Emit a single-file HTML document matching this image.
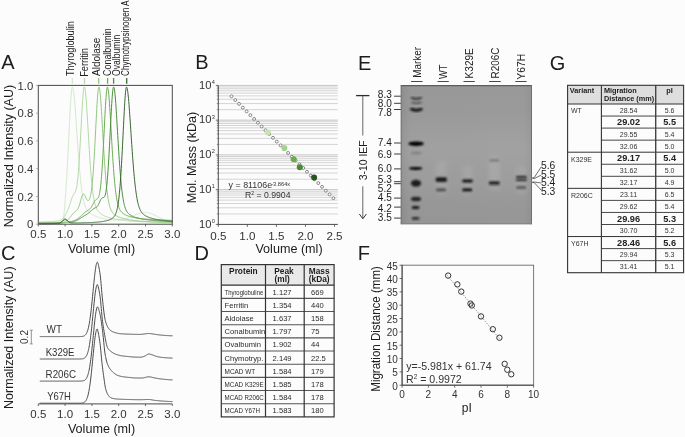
<!DOCTYPE html>
<html><head><meta charset="utf-8"><style>
html,body{margin:0;padding:0;background:#fcfcfc;}
svg{display:block;will-change:transform;font-family:"Liberation Sans",sans-serif;}
</style></head><body>
<svg width="685" height="437" viewBox="0 0 685 437">
<rect width="685" height="437" fill="#fcfcfc"/>
<text x="1.20" y="69.20" font-size="20" text-anchor="start" fill="#1c1c1c">A</text>
<text x="195.20" y="69.30" font-size="20" text-anchor="start" fill="#1c1c1c">B</text>
<text x="1.00" y="260.30" font-size="20" text-anchor="start" fill="#1c1c1c">C</text>
<text x="194.60" y="260.10" font-size="20" text-anchor="start" fill="#1c1c1c">D</text>
<text x="358.00" y="69.60" font-size="20" text-anchor="start" fill="#1c1c1c">E</text>
<text x="357.70" y="260.20" font-size="20" text-anchor="start" fill="#1c1c1c">F</text>
<text x="549.80" y="69.60" font-size="20" text-anchor="start" fill="#1c1c1c">G</text>
<path d="M39.00,223.92 L39.25,223.92 L39.50,223.92 L39.75,223.92 L40.00,223.92 L40.25,223.92 L40.50,223.92 L40.75,223.92 L41.00,223.92 L41.25,223.92 L41.50,223.92 L41.75,223.92 L42.00,223.92 L42.25,223.92 L42.50,223.92 L42.75,223.92 L43.00,223.92 L43.25,223.92 L43.50,223.92 L43.75,223.92 L44.00,223.92 L44.25,223.92 L44.50,223.92 L44.75,223.92 L45.00,223.92 L45.25,223.92 L45.50,223.92 L45.75,223.92 L46.00,223.92 L46.25,223.92 L46.50,223.92 L46.75,223.92 L47.00,223.92 L47.25,223.92 L47.50,223.92 L47.75,223.92 L48.00,223.92 L48.25,223.92 L48.50,223.92 L48.75,223.92 L49.00,223.92 L49.25,223.92 L49.50,223.92 L49.75,223.92 L50.00,223.92 L50.25,223.92 L50.50,223.92 L50.75,223.92 L51.00,223.92 L51.25,223.92 L51.50,223.92 L51.75,223.92 L52.00,223.92 L52.25,223.92 L52.50,223.92 L52.75,223.92 L53.00,223.92 L53.25,223.92 L53.50,223.92 L53.75,223.92 L54.00,223.92 L54.25,223.92 L54.50,223.92 L54.75,223.92 L55.00,223.92 L55.25,223.92 L55.50,223.92 L55.75,223.92 L56.00,223.92 L56.25,223.92 L56.50,223.92 L56.75,223.92 L57.00,223.92 L57.25,223.92 L57.50,223.92 L57.75,223.92 L58.00,223.91 L58.25,223.91 L58.50,223.91 L58.75,223.90 L59.00,223.90 L59.25,223.89 L59.50,223.88 L59.75,223.86 L60.00,223.84 L60.25,223.81 L60.50,223.77 L60.75,223.71 L61.00,223.62 L61.25,223.51 L61.50,223.36 L61.75,223.14 L62.00,222.85 L62.25,222.46 L62.50,221.93 L62.75,221.23 L63.00,220.33 L63.25,219.17 L63.50,217.73 L63.75,215.98 L64.00,213.92 L64.25,211.55 L64.50,208.90 L64.75,205.98 L65.00,202.84 L65.25,199.52 L65.50,196.02 L65.75,192.37 L66.00,188.59 L66.25,184.66 L66.50,180.59 L66.75,176.38 L67.00,172.03 L67.25,167.53 L67.50,162.90 L67.75,158.14 L68.00,153.26 L68.25,148.28 L68.50,143.22 L68.75,138.10 L69.00,132.96 L69.25,127.84 L69.50,122.77 L69.75,117.81 L70.00,113.02 L70.25,108.44 L70.50,104.14 L70.75,100.19 L71.00,96.66 L71.25,93.59 L71.50,91.07 L71.75,89.13 L72.00,87.81 L72.25,87.15 L72.50,87.07 L72.75,87.41 L73.00,88.16 L73.25,89.30 L73.50,90.82 L73.75,92.68 L74.00,94.85 L74.25,97.31 L74.50,100.02 L74.75,102.94 L75.00,106.05 L75.25,109.31 L75.50,112.69 L75.75,116.17 L76.00,119.71 L76.25,123.42 L76.50,127.17 L76.75,130.93 L77.00,134.68 L77.25,138.41 L77.50,142.10 L77.75,145.74 L78.00,149.31 L78.25,152.80 L78.50,156.21 L78.75,159.52 L79.00,162.73 L79.25,165.82 L79.50,168.80 L79.75,171.66 L80.00,174.40 L80.25,177.01 L80.50,179.50 L80.75,181.86 L81.00,184.09 L81.25,186.20 L81.50,188.19 L81.75,190.06 L82.00,191.82 L82.25,193.46 L82.50,195.00 L82.75,196.43 L83.00,197.77 L83.25,199.01 L83.50,200.17 L83.75,201.25 L84.00,202.25 L84.25,203.17 L84.50,204.03 L84.75,204.82 L85.00,205.56 L85.25,206.24 L85.50,206.88 L85.75,207.46 L86.00,208.01 L86.25,208.52 L86.50,208.99 L86.75,209.42 L87.00,209.83 L87.25,210.21 L87.50,210.57 L87.75,210.90 L88.00,211.21 L88.25,211.51 L88.50,211.78 L88.75,212.04 L89.00,212.29 L89.25,212.52 L89.50,212.75 L89.75,212.96 L90.00,213.16 L90.25,213.35 L90.50,213.53 L90.75,213.71 L91.00,213.88 L91.25,214.04 L91.50,214.20 L91.75,214.35 L92.00,214.49 L92.25,214.64 L92.50,214.78 L92.75,214.91 L93.00,215.04 L93.25,215.17 L93.50,215.29 L93.75,215.41 L94.00,215.53 L94.25,215.65 L94.50,215.76 L94.75,215.88 L95.00,215.98 L95.25,216.09 L95.50,216.20 L95.75,216.30 L96.00,216.40 L96.25,216.50 L96.50,216.60 L96.75,216.70 L97.00,216.79 L97.25,216.88 L97.50,216.97 L97.75,217.06 L98.00,217.15 L98.25,217.24 L98.50,217.32 L98.75,217.40 L99.00,217.49 L99.25,217.57 L99.50,217.65 L99.75,217.72 L100.00,217.80 L100.25,217.87 L100.50,217.95 L100.75,218.02 L101.00,218.09 L101.25,218.16 L101.50,218.22 L101.75,218.29 L102.00,218.35 L102.25,218.42 L102.50,218.48 L102.75,218.54 L103.00,218.60 L103.25,218.66 L103.50,218.72 L103.75,218.77 L104.00,218.83 L104.25,218.88 L104.50,218.94 L104.75,218.99 L105.00,219.04 L105.25,219.09 L105.50,219.13 L105.75,219.18 L106.00,219.23 L106.25,219.27 L106.50,219.32 L106.75,219.36 L107.00,219.40 L107.25,219.44 L107.50,219.48 L107.75,219.52 L108.00,219.56 L108.25,219.59 L108.50,219.63 L108.75,219.66 L109.00,219.69 L109.25,219.72 L109.50,219.76 L109.75,219.79 L110.00,219.81 L110.25,219.84 L110.50,219.87 L110.75,219.89 L111.00,219.92 L111.25,219.94 L111.50,219.96 L111.75,219.98 L112.00,220.00 L112.25,220.02 L112.50,220.04 L112.75,220.05 L113.00,220.07 L113.25,220.08 L113.50,220.10 L113.75,220.11 L114.00,220.12 L114.25,220.12 L114.50,220.13 L114.75,220.14 L115.00,220.14 L115.25,220.14 L115.50,220.15 L115.75,220.15 L116.00,220.15 L116.25,220.14 L116.50,220.14 L116.75,220.13 L117.00,220.13 L117.25,220.12 L117.50,220.11 L117.75,220.09 L118.00,220.08 L118.25,220.06 L118.50,220.05 L118.75,220.03 L119.00,220.01 L119.25,219.98 L119.50,219.96 L119.75,219.93 L120.00,219.91 L120.25,219.88 L120.50,219.85 L120.75,219.81 L121.00,219.78 L121.25,219.74 L121.50,219.70 L121.75,219.66 L122.00,219.61 L122.25,219.57 L122.50,219.52 L122.75,219.47 L123.00,219.42 L123.25,219.37 L123.50,219.31 L123.75,219.25 L124.00,219.19 L124.25,219.13 L124.50,219.07 L124.75,219.00 L125.00,218.94 L125.25,218.87 L125.50,218.79 L125.75,218.72 L126.00,218.64 L126.25,218.57 L126.50,218.49 L126.75,218.40 L127.00,218.32 L127.25,218.24 L127.50,218.15 L127.75,218.06 L128.00,217.97 L128.25,217.88 L128.50,217.78 L128.75,217.69 L129.00,217.59 L129.25,217.49 L129.50,217.39 L129.75,217.29 L130.00,217.19 L130.25,217.08 L130.50,216.98 L130.75,216.87 L131.00,216.76 L131.25,216.66 L131.50,216.55 L131.75,216.44 L132.00,216.33 L132.25,216.22 L132.50,216.11 L132.75,216.00 L133.00,215.88 L133.25,215.77 L133.50,215.66 L133.75,215.55 L134.00,215.44 L134.25,215.33 L134.50,215.22 L134.75,215.11 L135.00,215.00 L135.25,214.89 L135.50,214.78 L135.75,214.67 L136.00,214.57 L136.25,214.46 L136.50,214.36 L136.75,214.26 L137.00,214.16 L137.25,214.06 L137.50,213.97 L137.75,213.87 L138.00,213.78 L138.25,213.69 L138.50,213.60 L138.75,213.52 L139.00,213.43 L139.25,213.35 L139.50,213.28 L139.75,213.20 L140.00,213.13 L140.25,213.06 L140.50,213.00 L140.75,212.94 L141.00,212.88 L141.25,212.82 L141.50,212.77 L141.75,212.72 L142.00,212.68 L142.25,212.63 L142.50,212.60 L142.75,212.56 L143.00,212.53 L143.25,212.51 L143.50,212.48 L143.75,212.47 L144.00,212.45 L144.25,212.44 L144.50,212.44 L144.75,212.43 L145.00,212.44 L145.25,212.44 L145.50,212.45 L145.75,212.47 L146.00,212.48 L146.25,212.51 L146.50,212.53 L146.75,212.56 L147.00,212.60 L147.25,212.63 L147.50,212.68 L147.75,212.72 L148.00,212.77 L148.25,212.82 L148.50,212.88 L148.75,212.94 L149.00,213.00 L149.25,213.07 L149.50,213.14 L149.75,213.21 L150.00,213.29 L150.25,213.37 L150.50,213.45 L150.75,213.54 L151.00,213.63 L151.25,213.72 L151.50,213.81 L151.75,213.91 L152.00,214.01 L152.25,214.11 L152.50,214.21 L152.75,214.31 L153.00,214.42 L153.25,214.53 L153.50,214.64 L153.75,214.75 L154.00,214.86 L154.25,214.98 L154.50,215.10 L154.75,215.21 L155.00,215.33 L155.25,215.45 L155.50,215.57 L155.75,215.69 L156.00,215.81 L156.25,215.93 L156.50,216.05 L156.75,216.17 L157.00,216.29 L157.25,216.42 L157.50,216.54 L157.75,216.66 L158.00,216.78 L158.25,216.90 L158.50,217.02 L158.75,217.14 L159.00,217.26 L159.25,217.37 L159.50,217.49 L159.75,217.61 L160.00,217.72 L160.25,217.84 L160.50,217.95 L160.75,218.06 L161.00,218.17 L161.25,218.28 L161.50,218.39 L161.75,218.49 L162.00,218.60 L162.25,218.70 L162.50,218.80 L162.75,218.90 L163.00,219.00 L163.25,219.10 L163.50,219.19 L163.75,219.29 L164.00,219.38 L164.25,219.47 L164.50,219.56 L164.75,219.64 L165.00,219.73 L165.25,219.81 L165.50,219.89 L165.75,219.97 L166.00,220.04 L166.25,220.12 L166.50,220.19 L166.75,220.26 L167.00,220.33 L167.25,220.40 L167.50,220.47 L167.75,220.53 L168.00,220.59 L168.25,220.65 L168.50,220.71 L168.75,220.77 L169.00,220.83 L169.25,220.88 L169.50,220.93 L169.75,220.98 L170.00,221.03 L170.25,221.08 L170.50,221.12 L170.75,221.17 L171.00,221.21 L171.25,221.25 L171.50,221.29 L171.75,221.33 L172.00,221.37 L172.25,221.40" fill="none" stroke="#d3e9cc" stroke-width="1.0" stroke-linejoin="round"/>
<path d="M39.00,222.01 L39.25,222.00 L39.50,221.99 L39.75,221.99 L40.00,221.98 L40.25,221.97 L40.50,221.97 L40.75,221.96 L41.00,221.95 L41.25,221.94 L41.50,221.94 L41.75,221.93 L42.00,221.92 L42.25,221.91 L42.50,221.91 L42.75,221.90 L43.00,221.89 L43.25,221.88 L43.50,221.87 L43.75,221.87 L44.00,221.86 L44.25,221.85 L44.50,221.84 L44.75,221.83 L45.00,221.82 L45.25,221.81 L45.50,221.80 L45.75,221.79 L46.00,221.78 L46.25,221.77 L46.50,221.76 L46.75,221.75 L47.00,221.74 L47.25,221.73 L47.50,221.71 L47.75,221.70 L48.00,221.69 L48.25,221.68 L48.50,221.67 L48.75,221.65 L49.00,221.64 L49.25,221.63 L49.50,221.61 L49.75,221.60 L50.00,221.59 L50.25,221.57 L50.50,221.56 L50.75,221.54 L51.00,221.53 L51.25,221.51 L51.50,221.50 L51.75,221.48 L52.00,221.46 L52.25,221.45 L52.50,221.43 L52.75,221.41 L53.00,221.39 L53.25,221.37 L53.50,221.35 L53.75,221.33 L54.00,221.31 L54.25,221.29 L54.50,221.27 L54.75,221.25 L55.00,221.23 L55.25,221.21 L55.50,221.18 L55.75,221.16 L56.00,221.13 L56.25,221.11 L56.50,221.08 L56.75,221.05 L57.00,221.02 L57.25,220.99 L57.50,220.96 L57.75,220.92 L58.00,220.89 L58.25,220.85 L58.50,220.81 L58.75,220.76 L59.00,220.71 L59.25,220.65 L59.50,220.59 L59.75,220.52 L60.00,220.45 L60.25,220.36 L60.50,220.26 L60.75,220.16 L61.00,220.03 L61.25,219.90 L61.50,219.74 L61.75,219.57 L62.00,219.38 L62.25,219.17 L62.50,218.94 L62.75,218.68 L63.00,218.40 L63.25,218.10 L63.50,217.78 L63.75,217.43 L64.00,217.07 L64.25,216.68 L64.50,216.28 L64.75,215.86 L65.00,215.43 L65.25,214.98 L65.50,214.53 L65.75,214.07 L66.00,213.60 L66.25,213.12 L66.50,212.63 L66.75,212.13 L67.00,211.62 L67.25,211.10 L67.50,210.57 L67.75,210.01 L68.00,209.45 L68.25,208.86 L68.50,208.24 L68.75,207.61 L69.00,206.94 L69.25,206.26 L69.50,205.54 L69.75,204.80 L70.00,204.04 L70.25,203.26 L70.50,202.47 L70.75,201.67 L71.00,200.88 L71.25,200.09 L71.50,199.32 L71.75,198.58 L72.00,197.87 L72.25,197.21 L72.50,196.59 L72.75,196.02 L73.00,195.50 L73.25,195.04 L73.50,194.62 L73.75,194.24 L74.00,193.88 L74.25,193.54 L74.50,193.20 L74.75,192.84 L75.00,192.43 L75.25,191.95 L75.50,191.38 L75.75,190.70 L76.00,189.89 L76.25,188.91 L76.50,187.75 L76.75,186.39 L77.00,184.82 L77.25,183.01 L77.50,180.96 L77.75,178.66 L78.00,176.11 L78.25,173.29 L78.50,170.23 L78.75,166.91 L79.00,163.36 L79.25,159.58 L79.50,155.60 L79.75,151.42 L80.00,147.08 L80.25,142.59 L80.50,138.00 L80.75,133.34 L81.00,128.63 L81.25,123.94 L81.50,119.29 L81.75,114.74 L82.00,110.35 L82.25,106.17 L82.50,102.25 L82.75,98.67 L83.00,95.47 L83.25,92.72 L83.50,90.46 L83.75,88.75 L84.00,87.61 L84.25,87.07 L84.50,87.11 L84.75,87.69 L85.00,88.78 L85.25,90.37 L85.50,92.42 L85.75,94.90 L86.00,97.75 L86.25,100.93 L86.50,104.40 L86.75,108.10 L87.00,111.99 L87.25,116.03 L87.50,120.17 L87.75,124.37 L88.00,128.61 L88.25,132.89 L88.50,137.16 L88.75,141.38 L89.00,145.53 L89.25,149.59 L89.50,153.54 L89.75,157.38 L90.00,161.08 L90.25,164.65 L90.50,168.06 L90.75,171.32 L91.00,174.43 L91.25,177.37 L91.50,180.15 L91.75,182.76 L92.00,185.22 L92.25,187.52 L92.50,189.67 L92.75,191.67 L93.00,193.53 L93.25,195.25 L93.50,196.84 L93.75,198.30 L94.00,199.66 L94.25,200.90 L94.50,202.04 L94.75,203.09 L95.00,204.05 L95.25,204.93 L95.50,205.73 L95.75,206.47 L96.00,207.15 L96.25,207.77 L96.50,208.34 L96.75,208.87 L97.00,209.35 L97.25,209.80 L97.50,210.21 L97.75,210.60 L98.00,210.95 L98.25,211.29 L98.50,211.60 L98.75,211.89 L99.00,212.16 L99.25,212.42 L99.50,212.67 L99.75,212.90 L100.00,213.12 L100.25,213.33 L100.50,213.54 L100.75,213.73 L101.00,213.91 L101.25,214.09 L101.50,214.26 L101.75,214.43 L102.00,214.59 L102.25,214.74 L102.50,214.89 L102.75,215.04 L103.00,215.18 L103.25,215.31 L103.50,215.44 L103.75,215.57 L104.00,215.70 L104.25,215.82 L104.50,215.94 L104.75,216.05 L105.00,216.17 L105.25,216.28 L105.50,216.38 L105.75,216.49 L106.00,216.59 L106.25,216.69 L106.50,216.78 L106.75,216.88 L107.00,216.97 L107.25,217.06 L107.50,217.15 L107.75,217.23 L108.00,217.32 L108.25,217.40 L108.50,217.48 L108.75,217.56 L109.00,217.64 L109.25,217.71 L109.50,217.79 L109.75,217.86 L110.00,217.93 L110.25,218.00 L110.50,218.07 L110.75,218.14 L111.00,218.20 L111.25,218.27 L111.50,218.33 L111.75,218.39 L112.00,218.45 L112.25,218.51 L112.50,218.57 L112.75,218.63 L113.00,218.68 L113.25,218.74 L113.50,218.79 L113.75,218.85 L114.00,218.90 L114.25,218.95 L114.50,219.00 L114.75,219.05 L115.00,219.10 L115.25,219.14 L115.50,219.19 L115.75,219.24 L116.00,219.28 L116.25,219.33 L116.50,219.37 L116.75,219.41 L117.00,219.46 L117.25,219.50 L117.50,219.54 L117.75,219.58 L118.00,219.62 L118.25,219.66 L118.50,219.70 L118.75,219.73 L119.00,219.77 L119.25,219.81 L119.50,219.84 L119.75,219.88 L120.00,219.91 L120.25,219.95 L120.50,219.98 L120.75,220.02 L121.00,220.05 L121.25,220.08 L121.50,220.11 L121.75,220.14 L122.00,220.17 L122.25,220.21 L122.50,220.23 L122.75,220.26 L123.00,220.29 L123.25,220.32 L123.50,220.35 L123.75,220.38 L124.00,220.40 L124.25,220.43 L124.50,220.46 L124.75,220.48 L125.00,220.51 L125.25,220.54 L125.50,220.56 L125.75,220.58 L126.00,220.61 L126.25,220.63 L126.50,220.66 L126.75,220.68 L127.00,220.70 L127.25,220.73 L127.50,220.75 L127.75,220.77 L128.00,220.79 L128.25,220.81 L128.50,220.83 L128.75,220.85 L129.00,220.87 L129.25,220.90 L129.50,220.92 L129.75,220.93 L130.00,220.95 L130.25,220.97 L130.50,220.99 L130.75,221.01 L131.00,221.03 L131.25,221.05 L131.50,221.06 L131.75,221.08 L132.00,221.10 L132.25,221.12 L132.50,221.13 L132.75,221.15 L133.00,221.17 L133.25,221.18 L133.50,221.20 L133.75,221.21 L134.00,221.23 L134.25,221.25 L134.50,221.26 L134.75,221.28 L135.00,221.29 L135.25,221.31 L135.50,221.32 L135.75,221.33 L136.00,221.35 L136.25,221.36 L136.50,221.38 L136.75,221.39 L137.00,221.40 L137.25,221.42 L137.50,221.43 L137.75,221.44 L138.00,221.45 L138.25,221.47 L138.50,221.48 L138.75,221.49 L139.00,221.50 L139.25,221.51 L139.50,221.53 L139.75,221.54 L140.00,221.55 L140.25,221.56 L140.50,221.57 L140.75,221.58 L141.00,221.59 L141.25,221.60 L141.50,221.61 L141.75,221.62 L142.00,221.64 L142.25,221.65 L142.50,221.66 L142.75,221.67 L143.00,221.67 L143.25,221.68 L143.50,221.69 L143.75,221.70 L144.00,221.71 L144.25,221.72 L144.50,221.73 L144.75,221.74 L145.00,221.75 L145.25,221.76 L145.50,221.77 L145.75,221.77 L146.00,221.78 L146.25,221.79 L146.50,221.80 L146.75,221.81 L147.00,221.82 L147.25,221.82 L147.50,221.83 L147.75,221.84 L148.00,221.85 L148.25,221.85 L148.50,221.86 L148.75,221.87 L149.00,221.88 L149.25,221.88 L149.50,221.89 L149.75,221.90 L150.00,221.90 L150.25,221.91 L150.50,221.92 L150.75,221.93 L151.00,221.93 L151.25,221.94 L151.50,221.94 L151.75,221.95 L152.00,221.96 L152.25,221.96 L152.50,221.97 L152.75,221.98 L153.00,221.98 L153.25,221.99 L153.50,221.99 L153.75,222.00 L154.00,222.01 L154.25,222.01 L154.50,222.02 L154.75,222.02 L155.00,222.03 L155.25,222.03 L155.50,222.04 L155.75,222.04 L156.00,222.05 L156.25,222.05 L156.50,222.06 L156.75,222.06 L157.00,222.07 L157.25,222.07 L157.50,222.08 L157.75,222.08 L158.00,222.09 L158.25,222.09 L158.50,222.10 L158.75,222.10 L159.00,222.11 L159.25,222.11 L159.50,222.12 L159.75,222.12 L160.00,222.12 L160.25,222.13 L160.50,222.13 L160.75,222.14 L161.00,222.14 L161.25,222.14 L161.50,222.15 L161.75,222.15 L162.00,222.16 L162.25,222.16 L162.50,222.16 L162.75,222.17 L163.00,222.17 L163.25,222.18 L163.50,222.18 L163.75,222.18 L164.00,222.19 L164.25,222.19 L164.50,222.19 L164.75,222.20 L165.00,222.20 L165.25,222.20 L165.50,222.21 L165.75,222.21 L166.00,222.21 L166.25,222.22 L166.50,222.22 L166.75,222.22 L167.00,222.23 L167.25,222.23 L167.50,222.23 L167.75,222.24 L168.00,222.24 L168.25,222.24 L168.50,222.24 L168.75,222.25 L169.00,222.25 L169.25,222.25 L169.50,222.26 L169.75,222.26 L170.00,222.26 L170.25,222.26 L170.50,222.27 L170.75,222.27 L171.00,222.27 L171.25,222.28 L171.50,222.28 L171.75,222.28 L172.00,222.28 L172.25,222.29" fill="none" stroke="#b5d9a5" stroke-width="1.0" stroke-linejoin="round"/>
<path d="M39.00,222.81 L39.25,222.80 L39.50,222.80 L39.75,222.80 L40.00,222.80 L40.25,222.79 L40.50,222.79 L40.75,222.79 L41.00,222.78 L41.25,222.78 L41.50,222.78 L41.75,222.78 L42.00,222.77 L42.25,222.77 L42.50,222.77 L42.75,222.76 L43.00,222.76 L43.25,222.76 L43.50,222.75 L43.75,222.75 L44.00,222.75 L44.25,222.75 L44.50,222.74 L44.75,222.74 L45.00,222.74 L45.25,222.73 L45.50,222.73 L45.75,222.72 L46.00,222.72 L46.25,222.72 L46.50,222.71 L46.75,222.71 L47.00,222.71 L47.25,222.70 L47.50,222.70 L47.75,222.69 L48.00,222.69 L48.25,222.69 L48.50,222.68 L48.75,222.68 L49.00,222.67 L49.25,222.67 L49.50,222.66 L49.75,222.66 L50.00,222.66 L50.25,222.65 L50.50,222.65 L50.75,222.64 L51.00,222.64 L51.25,222.63 L51.50,222.63 L51.75,222.62 L52.00,222.62 L52.25,222.61 L52.50,222.61 L52.75,222.60 L53.00,222.59 L53.25,222.59 L53.50,222.58 L53.75,222.58 L54.00,222.57 L54.25,222.57 L54.50,222.56 L54.75,222.55 L55.00,222.55 L55.25,222.54 L55.50,222.53 L55.75,222.53 L56.00,222.52 L56.25,222.51 L56.50,222.51 L56.75,222.50 L57.00,222.49 L57.25,222.48 L57.50,222.48 L57.75,222.47 L58.00,222.46 L58.25,222.45 L58.50,222.44 L58.75,222.44 L59.00,222.43 L59.25,222.42 L59.50,222.41 L59.75,222.40 L60.00,222.39 L60.25,222.38 L60.50,222.36 L60.75,222.35 L61.00,222.34 L61.25,222.32 L61.50,222.31 L61.75,222.29 L62.00,222.27 L62.25,222.24 L62.50,222.22 L62.75,222.18 L63.00,222.15 L63.25,222.11 L63.50,222.07 L63.75,222.02 L64.00,221.96 L64.25,221.89 L64.50,221.82 L64.75,221.74 L65.00,221.65 L65.25,221.55 L65.50,221.43 L65.75,221.31 L66.00,221.18 L66.25,221.03 L66.50,220.87 L66.75,220.70 L67.00,220.52 L67.25,220.32 L67.50,220.12 L67.75,219.90 L68.00,219.66 L68.25,219.42 L68.50,219.16 L68.75,218.90 L69.00,218.62 L69.25,218.34 L69.50,218.04 L69.75,217.74 L70.00,217.43 L70.25,217.12 L70.50,216.80 L70.75,216.48 L71.00,216.15 L71.25,215.83 L71.50,215.51 L71.75,215.19 L72.00,214.87 L72.25,214.56 L72.50,214.25 L72.75,213.96 L73.00,213.67 L73.25,213.39 L73.50,213.12 L73.75,212.87 L74.00,212.62 L74.25,212.39 L74.50,212.17 L74.75,211.96 L75.00,211.75 L75.25,211.55 L75.50,211.36 L75.75,211.16 L76.00,210.96 L76.25,210.75 L76.50,210.53 L76.75,210.29 L77.00,210.02 L77.25,209.72 L77.50,209.38 L77.75,209.00 L78.00,208.57 L78.25,208.09 L78.50,207.55 L78.75,206.95 L79.00,206.28 L79.25,205.56 L79.50,204.79 L79.75,203.96 L80.00,203.09 L80.25,202.19 L80.50,201.27 L80.75,200.34 L81.00,199.41 L81.25,198.52 L81.50,197.66 L81.75,196.86 L82.00,196.14 L82.25,195.50 L82.50,194.96 L82.75,194.54 L83.00,194.23 L83.25,194.04 L83.50,193.97 L83.75,194.03 L84.00,194.19 L84.25,194.46 L84.50,194.82 L84.75,195.26 L85.00,195.75 L85.25,196.29 L85.50,196.86 L85.75,197.43 L86.00,197.99 L86.25,198.53 L86.50,199.03 L86.75,199.48 L87.00,199.86 L87.25,200.18 L87.50,200.42 L87.75,200.57 L88.00,200.64 L88.25,200.62 L88.50,200.51 L88.75,200.30 L89.00,199.99 L89.25,199.57 L89.50,199.05 L89.75,198.41 L90.00,197.64 L90.25,196.74 L90.50,195.70 L90.75,194.51 L91.00,193.16 L91.25,191.62 L91.50,189.90 L91.75,187.98 L92.00,185.85 L92.25,183.50 L92.50,180.92 L92.75,178.10 L93.00,175.05 L93.25,171.76 L93.50,168.23 L93.75,164.47 L94.00,160.50 L94.25,156.31 L94.50,151.93 L94.75,147.39 L95.00,142.70 L95.25,137.90 L95.50,133.02 L95.75,128.11 L96.00,123.22 L96.25,118.38 L96.50,113.67 L96.75,109.14 L97.00,104.85 L97.25,100.87 L97.50,97.28 L97.75,94.13 L98.00,91.50 L98.25,89.44 L98.50,88.00 L98.75,87.20 L99.00,87.07 L99.25,87.49 L99.50,88.45 L99.75,89.93 L100.00,91.88 L100.25,94.28 L100.50,97.08 L100.75,100.24 L101.00,103.71 L101.25,107.44 L101.50,111.37 L101.75,115.47 L102.00,119.70 L102.25,124.00 L102.50,128.34 L102.75,132.70 L103.00,137.03 L103.25,141.35 L103.50,145.60 L103.75,149.76 L104.00,153.82 L104.25,157.76 L104.50,161.56 L104.75,165.22 L105.00,168.73 L105.25,172.08 L105.50,175.27 L105.75,178.29 L106.00,181.14 L106.25,183.83 L106.50,186.35 L106.75,188.72 L107.00,190.92 L107.25,192.97 L107.50,194.88 L107.75,196.64 L108.00,198.27 L108.25,199.77 L108.50,201.15 L108.75,202.42 L109.00,203.59 L109.25,204.65 L109.50,205.63 L109.75,206.52 L110.00,207.33 L110.25,208.07 L110.50,208.75 L110.75,209.38 L111.00,209.94 L111.25,210.47 L111.50,210.94 L111.75,211.38 L112.00,211.79 L112.25,212.16 L112.50,212.51 L112.75,212.83 L113.00,213.13 L113.25,213.40 L113.50,213.66 L113.75,213.91 L114.00,214.14 L114.25,214.35 L114.50,214.56 L114.75,214.76 L115.00,214.94 L115.25,215.12 L115.50,215.29 L115.75,215.45 L116.00,215.60 L116.25,215.75 L116.50,215.90 L116.75,216.04 L117.00,216.17 L117.25,216.30 L117.50,216.42 L117.75,216.54 L118.00,216.66 L118.25,216.78 L118.50,216.89 L118.75,216.99 L119.00,217.10 L119.25,217.20 L119.50,217.30 L119.75,217.39 L120.00,217.49 L120.25,217.58 L120.50,217.67 L120.75,217.75 L121.00,217.84 L121.25,217.92 L121.50,218.00 L121.75,218.08 L122.00,218.15 L122.25,218.23 L122.50,218.30 L122.75,218.37 L123.00,218.44 L123.25,218.51 L123.50,218.58 L123.75,218.64 L124.00,218.70 L124.25,218.77 L124.50,218.83 L124.75,218.89 L125.00,218.95 L125.25,219.00 L125.50,219.06 L125.75,219.11 L126.00,219.17 L126.25,219.22 L126.50,219.27 L126.75,219.32 L127.00,219.37 L127.25,219.42 L127.50,219.47 L127.75,219.52 L128.00,219.56 L128.25,219.61 L128.50,219.65 L128.75,219.70 L129.00,219.74 L129.25,219.78 L129.50,219.82 L129.75,219.87 L130.00,219.91 L130.25,219.95 L130.50,219.98 L130.75,220.02 L131.00,220.06 L131.25,220.10 L131.50,220.13 L131.75,220.17 L132.00,220.20 L132.25,220.24 L132.50,220.27 L132.75,220.31 L133.00,220.34 L133.25,220.37 L133.50,220.40 L133.75,220.43 L134.00,220.47 L134.25,220.50 L134.50,220.53 L134.75,220.56 L135.00,220.58 L135.25,220.61 L135.50,220.64 L135.75,220.67 L136.00,220.70 L136.25,220.72 L136.50,220.75 L136.75,220.78 L137.00,220.80 L137.25,220.83 L137.50,220.85 L137.75,220.88 L138.00,220.90 L138.25,220.93 L138.50,220.95 L138.75,220.97 L139.00,221.00 L139.25,221.02 L139.50,221.04 L139.75,221.07 L140.00,221.09 L140.25,221.11 L140.50,221.13 L140.75,221.15 L141.00,221.17 L141.25,221.19 L141.50,221.21 L141.75,221.23 L142.00,221.25 L142.25,221.27 L142.50,221.29 L142.75,221.31 L143.00,221.33 L143.25,221.35 L143.50,221.37 L143.75,221.38 L144.00,221.40 L144.25,221.42 L144.50,221.44 L144.75,221.45 L145.00,221.47 L145.25,221.49 L145.50,221.50 L145.75,221.52 L146.00,221.54 L146.25,221.55 L146.50,221.57 L146.75,221.58 L147.00,221.60 L147.25,221.61 L147.50,221.63 L147.75,221.64 L148.00,221.66 L148.25,221.67 L148.50,221.69 L148.75,221.70 L149.00,221.72 L149.25,221.73 L149.50,221.74 L149.75,221.76 L150.00,221.77 L150.25,221.78 L150.50,221.80 L150.75,221.81 L151.00,221.82 L151.25,221.83 L151.50,221.85 L151.75,221.86 L152.00,221.87 L152.25,221.88 L152.50,221.89 L152.75,221.91 L153.00,221.92 L153.25,221.93 L153.50,221.94 L153.75,221.95 L154.00,221.96 L154.25,221.97 L154.50,221.99 L154.75,222.00 L155.00,222.01 L155.25,222.02 L155.50,222.03 L155.75,222.04 L156.00,222.05 L156.25,222.06 L156.50,222.07 L156.75,222.08 L157.00,222.09 L157.25,222.10 L157.50,222.11 L157.75,222.12 L158.00,222.12 L158.25,222.13 L158.50,222.14 L158.75,222.15 L159.00,222.16 L159.25,222.17 L159.50,222.18 L159.75,222.19 L160.00,222.20 L160.25,222.20 L160.50,222.21 L160.75,222.22 L161.00,222.23 L161.25,222.24 L161.50,222.24 L161.75,222.25 L162.00,222.26 L162.25,222.27 L162.50,222.28 L162.75,222.28 L163.00,222.29 L163.25,222.30 L163.50,222.31 L163.75,222.31 L164.00,222.32 L164.25,222.33 L164.50,222.33 L164.75,222.34 L165.00,222.35 L165.25,222.36 L165.50,222.36 L165.75,222.37 L166.00,222.38 L166.25,222.38 L166.50,222.39 L166.75,222.39 L167.00,222.40 L167.25,222.41 L167.50,222.41 L167.75,222.42 L168.00,222.43 L168.25,222.43 L168.50,222.44 L168.75,222.44 L169.00,222.45 L169.25,222.46 L169.50,222.46 L169.75,222.47 L170.00,222.47 L170.25,222.48 L170.50,222.48 L170.75,222.49 L171.00,222.49 L171.25,222.50 L171.50,222.50 L171.75,222.51 L172.00,222.51 L172.25,222.52" fill="none" stroke="#92c67e" stroke-width="1.0" stroke-linejoin="round"/>
<path d="M39.00,223.70 L39.25,223.69 L39.50,223.69 L39.75,223.69 L40.00,223.69 L40.25,223.69 L40.50,223.68 L40.75,223.68 L41.00,223.68 L41.25,223.68 L41.50,223.68 L41.75,223.67 L42.00,223.67 L42.25,223.67 L42.50,223.67 L42.75,223.66 L43.00,223.66 L43.25,223.66 L43.50,223.66 L43.75,223.65 L44.00,223.65 L44.25,223.65 L44.50,223.65 L44.75,223.64 L45.00,223.64 L45.25,223.64 L45.50,223.63 L45.75,223.63 L46.00,223.63 L46.25,223.62 L46.50,223.62 L46.75,223.62 L47.00,223.61 L47.25,223.61 L47.50,223.61 L47.75,223.60 L48.00,223.60 L48.25,223.59 L48.50,223.59 L48.75,223.59 L49.00,223.58 L49.25,223.58 L49.50,223.57 L49.75,223.57 L50.00,223.56 L50.25,223.56 L50.50,223.55 L50.75,223.55 L51.00,223.54 L51.25,223.53 L51.50,223.53 L51.75,223.52 L52.00,223.52 L52.25,223.51 L52.50,223.50 L52.75,223.50 L53.00,223.49 L53.25,223.48 L53.50,223.47 L53.75,223.46 L54.00,223.46 L54.25,223.45 L54.50,223.44 L54.75,223.43 L55.00,223.42 L55.25,223.41 L55.50,223.40 L55.75,223.39 L56.00,223.38 L56.25,223.37 L56.50,223.36 L56.75,223.34 L57.00,223.33 L57.25,223.32 L57.50,223.31 L57.75,223.29 L58.00,223.28 L58.25,223.26 L58.50,223.25 L58.75,223.23 L59.00,223.22 L59.25,223.20 L59.50,223.18 L59.75,223.16 L60.00,223.15 L60.25,223.13 L60.50,223.11 L60.75,223.09 L61.00,223.07 L61.25,223.04 L61.50,223.02 L61.75,223.00 L62.00,222.97 L62.25,222.95 L62.50,222.92 L62.75,222.90 L63.00,222.87 L63.25,222.84 L63.50,222.82 L63.75,222.79 L64.00,222.76 L64.25,222.72 L64.50,222.69 L64.75,222.66 L65.00,222.63 L65.25,222.59 L65.50,222.56 L65.75,222.52 L66.00,222.49 L66.25,222.45 L66.50,222.41 L66.75,222.37 L67.00,222.33 L67.25,222.29 L67.50,222.25 L67.75,222.20 L68.00,222.16 L68.25,222.11 L68.50,222.07 L68.75,222.02 L69.00,221.97 L69.25,221.92 L69.50,221.87 L69.75,221.82 L70.00,221.76 L70.25,221.71 L70.50,221.65 L70.75,221.60 L71.00,221.54 L71.25,221.47 L71.50,221.41 L71.75,221.34 L72.00,221.28 L72.25,221.21 L72.50,221.13 L72.75,221.06 L73.00,220.98 L73.25,220.90 L73.50,220.81 L73.75,220.73 L74.00,220.64 L74.25,220.54 L74.50,220.44 L74.75,220.34 L75.00,220.23 L75.25,220.12 L75.50,220.00 L75.75,219.88 L76.00,219.75 L76.25,219.62 L76.50,219.48 L76.75,219.33 L77.00,219.18 L77.25,219.03 L77.50,218.86 L77.75,218.70 L78.00,218.52 L78.25,218.34 L78.50,218.16 L78.75,217.96 L79.00,217.77 L79.25,217.56 L79.50,217.35 L79.75,217.14 L80.00,216.92 L80.25,216.70 L80.50,216.47 L80.75,216.24 L81.00,216.00 L81.25,215.76 L81.50,215.52 L81.75,215.28 L82.00,215.04 L82.25,214.80 L82.50,214.55 L82.75,214.31 L83.00,214.07 L83.25,213.83 L83.50,213.60 L83.75,213.37 L84.00,213.14 L84.25,212.92 L84.50,212.70 L84.75,212.49 L85.00,212.28 L85.25,212.09 L85.50,211.90 L85.75,211.71 L86.00,211.53 L86.25,211.37 L86.50,211.20 L86.75,211.04 L87.00,210.89 L87.25,210.74 L87.50,210.60 L87.75,210.45 L88.00,210.31 L88.25,210.16 L88.50,210.00 L88.75,209.84 L89.00,209.67 L89.25,209.49 L89.50,209.29 L89.75,209.07 L90.00,208.83 L90.25,208.57 L90.50,208.28 L90.75,207.97 L91.00,207.63 L91.25,207.26 L91.50,206.86 L91.75,206.44 L92.00,206.00 L92.25,205.53 L92.50,205.05 L92.75,204.56 L93.00,204.06 L93.25,203.56 L93.50,203.06 L93.75,202.58 L94.00,202.12 L94.25,201.68 L94.50,201.27 L94.75,200.90 L95.00,200.56 L95.25,200.26 L95.50,199.99 L95.75,199.77 L96.00,199.57 L96.25,199.41 L96.50,199.26 L96.75,199.12 L97.00,198.97 L97.25,198.81 L97.50,198.62 L97.75,198.37 L98.00,198.06 L98.25,197.66 L98.50,197.15 L98.75,196.52 L99.00,195.75 L99.25,194.81 L99.50,193.70 L99.75,192.38 L100.00,190.86 L100.25,189.10 L100.50,187.11 L100.75,184.88 L101.00,182.38 L101.25,179.63 L101.50,176.62 L101.75,173.34 L102.00,169.81 L102.25,166.04 L102.50,162.02 L102.75,157.79 L103.00,153.35 L103.25,148.74 L103.50,143.97 L103.75,139.08 L104.00,134.11 L104.25,129.10 L104.50,124.10 L104.75,119.15 L105.00,114.32 L105.25,109.67 L105.50,105.27 L105.75,101.19 L106.00,97.50 L106.25,94.27 L106.50,91.57 L106.75,89.45 L107.00,87.98 L107.25,87.18 L107.50,87.07 L107.75,87.52 L108.00,88.50 L108.25,89.98 L108.50,91.95 L108.75,94.36 L109.00,97.17 L109.25,100.34 L109.50,103.81 L109.75,107.53 L110.00,111.47 L110.25,115.57 L110.50,119.79 L110.75,124.09 L111.00,128.43 L111.25,132.78 L111.50,137.11 L111.75,141.39 L112.00,145.60 L112.25,149.74 L112.50,153.76 L112.75,157.67 L113.00,161.44 L113.25,165.06 L113.50,168.53 L113.75,171.84 L114.00,174.99 L114.25,177.97 L114.50,180.79 L114.75,183.44 L115.00,185.92 L115.25,188.25 L115.50,190.42 L115.75,192.43 L116.00,194.30 L116.25,196.03 L116.50,197.63 L116.75,199.10 L117.00,200.45 L117.25,201.69 L117.50,202.83 L117.75,203.86 L118.00,204.81 L118.25,205.68 L118.50,206.47 L118.75,207.19 L119.00,207.85 L119.25,208.45 L119.50,209.00 L119.75,209.50 L120.00,209.96 L120.25,210.38 L120.50,210.77 L120.75,211.13 L121.00,211.46 L121.25,211.76 L121.50,212.04 L121.75,212.31 L122.00,212.55 L122.25,212.78 L122.50,213.00 L122.75,213.20 L123.00,213.40 L123.25,213.58 L123.50,213.75 L123.75,213.92 L124.00,214.07 L124.25,214.22 L124.50,214.37 L124.75,214.50 L125.00,214.64 L125.25,214.76 L125.50,214.89 L125.75,215.00 L126.00,215.12 L126.25,215.23 L126.50,215.34 L126.75,215.44 L127.00,215.54 L127.25,215.64 L127.50,215.73 L127.75,215.83 L128.00,215.91 L128.25,216.00 L128.50,216.09 L128.75,216.17 L129.00,216.25 L129.25,216.33 L129.50,216.40 L129.75,216.47 L130.00,216.55 L130.25,216.62 L130.50,216.68 L130.75,216.75 L131.00,216.82 L131.25,216.88 L131.50,216.94 L131.75,217.00 L132.00,217.06 L132.25,217.12 L132.50,217.18 L132.75,217.23 L133.00,217.29 L133.25,217.34 L133.50,217.39 L133.75,217.44 L134.00,217.49 L134.25,217.54 L134.50,217.59 L134.75,217.64 L135.00,217.68 L135.25,217.73 L135.50,217.77 L135.75,217.81 L136.00,217.86 L136.25,217.90 L136.50,217.94 L136.75,217.98 L137.00,218.02 L137.25,218.06 L137.50,218.09 L137.75,218.13 L138.00,218.17 L138.25,218.20 L138.50,218.24 L138.75,218.27 L139.00,218.31 L139.25,218.34 L139.50,218.37 L139.75,218.41 L140.00,218.44 L140.25,218.47 L140.50,218.50 L140.75,218.53 L141.00,218.56 L141.25,218.59 L141.50,218.62 L141.75,218.65 L142.00,218.68 L142.25,218.70 L142.50,218.73 L142.75,218.76 L143.00,218.78 L143.25,218.81 L143.50,218.83 L143.75,218.86 L144.00,218.88 L144.25,218.91 L144.50,218.93 L144.75,218.96 L145.00,218.98 L145.25,219.00 L145.50,219.03 L145.75,219.05 L146.00,219.07 L146.25,219.09 L146.50,219.11 L146.75,219.14 L147.00,219.16 L147.25,219.18 L147.50,219.20 L147.75,219.22 L148.00,219.24 L148.25,219.26 L148.50,219.28 L148.75,219.30 L149.00,219.31 L149.25,219.33 L149.50,219.35 L149.75,219.37 L150.00,219.39 L150.25,219.41 L150.50,219.42 L150.75,219.44 L151.00,219.46 L151.25,219.47 L151.50,219.49 L151.75,219.51 L152.00,219.52 L152.25,219.54 L152.50,219.56 L152.75,219.57 L153.00,219.59 L153.25,219.60 L153.50,219.62 L153.75,219.63 L154.00,219.65 L154.25,219.66 L154.50,219.68 L154.75,219.69 L155.00,219.71 L155.25,219.72 L155.50,219.73 L155.75,219.75 L156.00,219.76 L156.25,219.77 L156.50,219.79 L156.75,219.80 L157.00,219.81 L157.25,219.83 L157.50,219.84 L157.75,219.85 L158.00,219.86 L158.25,219.87 L158.50,219.89 L158.75,219.90 L159.00,219.91 L159.25,219.92 L159.50,219.93 L159.75,219.95 L160.00,219.96 L160.25,219.97 L160.50,219.98 L160.75,219.99 L161.00,220.00 L161.25,220.01 L161.50,220.02 L161.75,220.03 L162.00,220.04 L162.25,220.05 L162.50,220.06 L162.75,220.07 L163.00,220.08 L163.25,220.09 L163.50,220.10 L163.75,220.11 L164.00,220.12 L164.25,220.13 L164.50,220.14 L164.75,220.15 L165.00,220.16 L165.25,220.17 L165.50,220.18 L165.75,220.19 L166.00,220.20 L166.25,220.20 L166.50,220.21 L166.75,220.22 L167.00,220.23 L167.25,220.24 L167.50,220.25 L167.75,220.26 L168.00,220.26 L168.25,220.27 L168.50,220.28 L168.75,220.29 L169.00,220.30 L169.25,220.30 L169.50,220.31 L169.75,220.32 L170.00,220.33 L170.25,220.33 L170.50,220.34 L170.75,220.35 L171.00,220.36 L171.25,220.36 L171.50,220.37 L171.75,220.38 L172.00,220.38 L172.25,220.39" fill="none" stroke="#6cae53" stroke-width="1.0" stroke-linejoin="round"/>
<path d="M39.00,223.71 L39.25,223.71 L39.50,223.71 L39.75,223.70 L40.00,223.70 L40.25,223.70 L40.50,223.70 L40.75,223.70 L41.00,223.70 L41.25,223.69 L41.50,223.69 L41.75,223.69 L42.00,223.69 L42.25,223.69 L42.50,223.68 L42.75,223.68 L43.00,223.68 L43.25,223.68 L43.50,223.67 L43.75,223.67 L44.00,223.67 L44.25,223.67 L44.50,223.66 L44.75,223.66 L45.00,223.66 L45.25,223.66 L45.50,223.65 L45.75,223.65 L46.00,223.65 L46.25,223.65 L46.50,223.64 L46.75,223.64 L47.00,223.64 L47.25,223.63 L47.50,223.63 L47.75,223.63 L48.00,223.62 L48.25,223.62 L48.50,223.62 L48.75,223.61 L49.00,223.61 L49.25,223.61 L49.50,223.60 L49.75,223.60 L50.00,223.59 L50.25,223.59 L50.50,223.59 L50.75,223.58 L51.00,223.58 L51.25,223.57 L51.50,223.57 L51.75,223.56 L52.00,223.56 L52.25,223.55 L52.50,223.55 L52.75,223.54 L53.00,223.54 L53.25,223.53 L53.50,223.53 L53.75,223.52 L54.00,223.51 L54.25,223.51 L54.50,223.50 L54.75,223.50 L55.00,223.49 L55.25,223.48 L55.50,223.47 L55.75,223.47 L56.00,223.46 L56.25,223.45 L56.50,223.44 L56.75,223.43 L57.00,223.42 L57.25,223.41 L57.50,223.40 L57.75,223.39 L58.00,223.37 L58.25,223.35 L58.50,223.33 L58.75,223.31 L59.00,223.27 L59.25,223.23 L59.50,223.19 L59.75,223.13 L60.00,223.06 L60.25,222.97 L60.50,222.87 L60.75,222.75 L61.00,222.62 L61.25,222.46 L61.50,222.29 L61.75,222.09 L62.00,221.88 L62.25,221.65 L62.50,221.41 L62.75,221.17 L63.00,220.92 L63.25,220.68 L63.50,220.45 L63.75,220.23 L64.00,220.04 L64.25,219.89 L64.50,219.76 L64.75,219.68 L65.00,219.64 L65.25,219.64 L65.50,219.69 L65.75,219.77 L66.00,219.90 L66.25,220.05 L66.50,220.22 L66.75,220.41 L67.00,220.62 L67.25,220.83 L67.50,221.03 L67.75,221.23 L68.00,221.42 L68.25,221.59 L68.50,221.74 L68.75,221.88 L69.00,221.99 L69.25,222.08 L69.50,222.15 L69.75,222.21 L70.00,222.24 L70.25,222.26 L70.50,222.27 L70.75,222.26 L71.00,222.25 L71.25,222.22 L71.50,222.19 L71.75,222.15 L72.00,222.11 L72.25,222.05 L72.50,222.00 L72.75,221.94 L73.00,221.87 L73.25,221.81 L73.50,221.73 L73.75,221.66 L74.00,221.58 L74.25,221.49 L74.50,221.40 L74.75,221.31 L75.00,221.22 L75.25,221.12 L75.50,221.01 L75.75,220.90 L76.00,220.79 L76.25,220.67 L76.50,220.55 L76.75,220.42 L77.00,220.29 L77.25,220.16 L77.50,220.02 L77.75,219.88 L78.00,219.74 L78.25,219.59 L78.50,219.44 L78.75,219.29 L79.00,219.13 L79.25,218.97 L79.50,218.81 L79.75,218.65 L80.00,218.49 L80.25,218.32 L80.50,218.16 L80.75,217.99 L81.00,217.83 L81.25,217.66 L81.50,217.50 L81.75,217.34 L82.00,217.18 L82.25,217.02 L82.50,216.86 L82.75,216.70 L83.00,216.54 L83.25,216.39 L83.50,216.24 L83.75,216.09 L84.00,215.94 L84.25,215.79 L84.50,215.65 L84.75,215.50 L85.00,215.36 L85.25,215.21 L85.50,215.07 L85.75,214.92 L86.00,214.77 L86.25,214.62 L86.50,214.47 L86.75,214.31 L87.00,214.15 L87.25,213.99 L87.50,213.82 L87.75,213.65 L88.00,213.47 L88.25,213.29 L88.50,213.09 L88.75,212.90 L89.00,212.69 L89.25,212.49 L89.50,212.27 L89.75,212.05 L90.00,211.83 L90.25,211.60 L90.50,211.37 L90.75,211.13 L91.00,210.90 L91.25,210.67 L91.50,210.43 L91.75,210.20 L92.00,209.98 L92.25,209.76 L92.50,209.55 L92.75,209.35 L93.00,209.15 L93.25,208.97 L93.50,208.80 L93.75,208.64 L94.00,208.49 L94.25,208.35 L94.50,208.22 L94.75,208.09 L95.00,207.97 L95.25,207.86 L95.50,207.74 L95.75,207.61 L96.00,207.48 L96.25,207.33 L96.50,207.16 L96.75,206.97 L97.00,206.74 L97.25,206.48 L97.50,206.18 L97.75,205.84 L98.00,205.46 L98.25,205.03 L98.50,204.56 L98.75,204.06 L99.00,203.52 L99.25,202.95 L99.50,202.37 L99.75,201.78 L100.00,201.19 L100.25,200.62 L100.50,200.08 L100.75,199.58 L101.00,199.13 L101.25,198.73 L101.50,198.39 L101.75,198.12 L102.00,197.91 L102.25,197.76 L102.50,197.67 L102.75,197.61 L103.00,197.58 L103.25,197.56 L103.50,197.52 L103.75,197.44 L104.00,197.31 L104.25,197.10 L104.50,196.77 L104.75,196.31 L105.00,195.69 L105.25,194.90 L105.50,193.91 L105.75,192.70 L106.00,191.27 L106.25,189.59 L106.50,187.66 L106.75,185.47 L107.00,183.02 L107.25,180.31 L107.50,177.33 L107.75,174.10 L108.00,170.63 L108.25,166.91 L108.50,162.98 L108.75,158.83 L109.00,154.49 L109.25,149.99 L109.50,145.35 L109.75,140.59 L110.00,135.76 L110.25,130.88 L110.50,126.00 L110.75,121.17 L111.00,116.43 L111.25,111.84 L111.50,107.46 L111.75,103.34 L112.00,99.56 L112.25,96.17 L112.50,93.23 L112.75,90.81 L113.00,88.95 L113.25,87.70 L113.50,87.07 L113.75,87.07 L114.00,87.57 L114.25,88.57 L114.50,90.05 L114.75,91.97 L115.00,94.30 L115.25,97.00 L115.50,100.04 L115.75,103.37 L116.00,106.94 L116.25,110.72 L116.50,114.66 L116.75,118.72 L117.00,122.87 L117.25,127.06 L117.50,131.28 L117.75,135.49 L118.00,139.66 L118.25,143.80 L118.50,147.87 L118.75,151.84 L119.00,155.71 L119.25,159.46 L119.50,163.09 L119.75,166.57 L120.00,169.92 L120.25,173.11 L120.50,176.15 L120.75,179.04 L121.00,181.77 L121.25,184.35 L121.50,186.78 L121.75,189.05 L122.00,191.18 L122.25,193.16 L122.50,195.01 L122.75,196.72 L123.00,198.31 L123.25,199.78 L123.50,201.13 L123.75,202.38 L124.00,203.53 L124.25,204.58 L124.50,205.55 L124.75,206.43 L125.00,207.24 L125.25,207.99 L125.50,208.67 L125.75,209.29 L126.00,209.86 L126.25,210.38 L126.50,210.86 L126.75,211.30 L127.00,211.71 L127.25,212.09 L127.50,212.43 L127.75,212.75 L128.00,213.05 L128.25,213.33 L128.50,213.58 L128.75,213.83 L129.00,214.05 L129.25,214.27 L129.50,214.47 L129.75,214.66 L130.00,214.84 L130.25,215.01 L130.50,215.17 L130.75,215.33 L131.00,215.48 L131.25,215.62 L131.50,215.76 L131.75,215.89 L132.00,216.02 L132.25,216.14 L132.50,216.26 L132.75,216.37 L133.00,216.48 L133.25,216.59 L133.50,216.69 L133.75,216.79 L134.00,216.89 L134.25,216.99 L134.50,217.08 L134.75,217.17 L135.00,217.26 L135.25,217.34 L135.50,217.42 L135.75,217.50 L136.00,217.58 L136.25,217.66 L136.50,217.73 L136.75,217.80 L137.00,217.87 L137.25,217.94 L137.50,218.01 L137.75,218.08 L138.00,218.14 L138.25,218.20 L138.50,218.26 L138.75,218.32 L139.00,218.38 L139.25,218.44 L139.50,218.50 L139.75,218.55 L140.00,218.60 L140.25,218.66 L140.50,218.71 L140.75,218.76 L141.00,218.81 L141.25,218.86 L141.50,218.90 L141.75,218.95 L142.00,219.00 L142.25,219.04 L142.50,219.08 L142.75,219.13 L143.00,219.17 L143.25,219.21 L143.50,219.25 L143.75,219.29 L144.00,219.33 L144.25,219.37 L144.50,219.41 L144.75,219.44 L145.00,219.48 L145.25,219.51 L145.50,219.55 L145.75,219.58 L146.00,219.62 L146.25,219.65 L146.50,219.68 L146.75,219.72 L147.00,219.75 L147.25,219.78 L147.50,219.81 L147.75,219.84 L148.00,219.87 L148.25,219.90 L148.50,219.93 L148.75,219.96 L149.00,219.99 L149.25,220.01 L149.50,220.04 L149.75,220.07 L150.00,220.09 L150.25,220.12 L150.50,220.15 L150.75,220.17 L151.00,220.20 L151.25,220.22 L151.50,220.24 L151.75,220.27 L152.00,220.29 L152.25,220.31 L152.50,220.34 L152.75,220.36 L153.00,220.38 L153.25,220.40 L153.50,220.43 L153.75,220.45 L154.00,220.47 L154.25,220.49 L154.50,220.51 L154.75,220.53 L155.00,220.55 L155.25,220.57 L155.50,220.59 L155.75,220.61 L156.00,220.63 L156.25,220.65 L156.50,220.66 L156.75,220.68 L157.00,220.70 L157.25,220.72 L157.50,220.74 L157.75,220.75 L158.00,220.77 L158.25,220.79 L158.50,220.80 L158.75,220.82 L159.00,220.84 L159.25,220.85 L159.50,220.87 L159.75,220.88 L160.00,220.90 L160.25,220.92 L160.50,220.93 L160.75,220.95 L161.00,220.96 L161.25,220.98 L161.50,220.99 L161.75,221.00 L162.00,221.02 L162.25,221.03 L162.50,221.05 L162.75,221.06 L163.00,221.07 L163.25,221.09 L163.50,221.10 L163.75,221.11 L164.00,221.13 L164.25,221.14 L164.50,221.15 L164.75,221.16 L165.00,221.18 L165.25,221.19 L165.50,221.20 L165.75,221.21 L166.00,221.22 L166.25,221.24 L166.50,221.25 L166.75,221.26 L167.00,221.27 L167.25,221.28 L167.50,221.29 L167.75,221.30 L168.00,221.32 L168.25,221.33 L168.50,221.34 L168.75,221.35 L169.00,221.36 L169.25,221.37 L169.50,221.38 L169.75,221.39 L170.00,221.40 L170.25,221.41 L170.50,221.42 L170.75,221.43 L171.00,221.44 L171.25,221.45 L171.50,221.46 L171.75,221.47 L172.00,221.48 L172.25,221.48" fill="none" stroke="#4d8f3c" stroke-width="1.0" stroke-linejoin="round"/>
<path d="M39.00,223.24 L39.25,223.23 L39.50,223.23 L39.75,223.23 L40.00,223.23 L40.25,223.23 L40.50,223.23 L40.75,223.23 L41.00,223.23 L41.25,223.23 L41.50,223.23 L41.75,223.23 L42.00,223.23 L42.25,223.22 L42.50,223.22 L42.75,223.22 L43.00,223.22 L43.25,223.22 L43.50,223.22 L43.75,223.22 L44.00,223.22 L44.25,223.22 L44.50,223.22 L44.75,223.21 L45.00,223.21 L45.25,223.21 L45.50,223.21 L45.75,223.21 L46.00,223.21 L46.25,223.21 L46.50,223.21 L46.75,223.21 L47.00,223.21 L47.25,223.20 L47.50,223.20 L47.75,223.20 L48.00,223.20 L48.25,223.20 L48.50,223.20 L48.75,223.20 L49.00,223.20 L49.25,223.20 L49.50,223.19 L49.75,223.19 L50.00,223.19 L50.25,223.19 L50.50,223.19 L50.75,223.19 L51.00,223.19 L51.25,223.19 L51.50,223.18 L51.75,223.18 L52.00,223.18 L52.25,223.18 L52.50,223.18 L52.75,223.18 L53.00,223.18 L53.25,223.17 L53.50,223.17 L53.75,223.17 L54.00,223.17 L54.25,223.17 L54.50,223.17 L54.75,223.17 L55.00,223.16 L55.25,223.16 L55.50,223.16 L55.75,223.16 L56.00,223.15 L56.25,223.15 L56.50,223.15 L56.75,223.14 L57.00,223.14 L57.25,223.13 L57.50,223.12 L57.75,223.10 L58.00,223.09 L58.25,223.07 L58.50,223.04 L58.75,223.00 L59.00,222.96 L59.25,222.91 L59.50,222.84 L59.75,222.76 L60.00,222.67 L60.25,222.55 L60.50,222.42 L60.75,222.28 L61.00,222.11 L61.25,221.92 L61.50,221.71 L61.75,221.49 L62.00,221.25 L62.25,221.00 L62.50,220.74 L62.75,220.48 L63.00,220.23 L63.25,219.98 L63.50,219.75 L63.75,219.54 L64.00,219.36 L64.25,219.21 L64.50,219.11 L64.75,219.04 L65.00,219.01 L65.25,219.03 L65.50,219.10 L65.75,219.20 L66.00,219.34 L66.25,219.52 L66.50,219.72 L66.75,219.95 L67.00,220.19 L67.25,220.44 L67.50,220.70 L67.75,220.95 L68.00,221.19 L68.25,221.43 L68.50,221.65 L68.75,221.85 L69.00,222.03 L69.25,222.20 L69.50,222.34 L69.75,222.46 L70.00,222.57 L70.25,222.66 L70.50,222.74 L70.75,222.80 L71.00,222.84 L71.25,222.88 L71.50,222.91 L71.75,222.94 L72.00,222.95 L72.25,222.97 L72.50,222.97 L72.75,222.98 L73.00,222.98 L73.25,222.98 L73.50,222.98 L73.75,222.98 L74.00,222.98 L74.25,222.98 L74.50,222.97 L74.75,222.97 L75.00,222.97 L75.25,222.96 L75.50,222.96 L75.75,222.95 L76.00,222.95 L76.25,222.95 L76.50,222.94 L76.75,222.94 L77.00,222.93 L77.25,222.93 L77.50,222.92 L77.75,222.92 L78.00,222.92 L78.25,222.91 L78.50,222.91 L78.75,222.90 L79.00,222.90 L79.25,222.89 L79.50,222.89 L79.75,222.88 L80.00,222.87 L80.25,222.87 L80.50,222.86 L80.75,222.86 L81.00,222.85 L81.25,222.85 L81.50,222.84 L81.75,222.83 L82.00,222.83 L82.25,222.82 L82.50,222.82 L82.75,222.81 L83.00,222.80 L83.25,222.80 L83.50,222.79 L83.75,222.78 L84.00,222.78 L84.25,222.77 L84.50,222.76 L84.75,222.75 L85.00,222.75 L85.25,222.74 L85.50,222.73 L85.75,222.72 L86.00,222.72 L86.25,222.71 L86.50,222.70 L86.75,222.69 L87.00,222.68 L87.25,222.67 L87.50,222.66 L87.75,222.66 L88.00,222.65 L88.25,222.64 L88.50,222.63 L88.75,222.62 L89.00,222.61 L89.25,222.60 L89.50,222.59 L89.75,222.58 L90.00,222.57 L90.25,222.55 L90.50,222.54 L90.75,222.53 L91.00,222.52 L91.25,222.51 L91.50,222.50 L91.75,222.48 L92.00,222.47 L92.25,222.46 L92.50,222.44 L92.75,222.43 L93.00,222.42 L93.25,222.40 L93.50,222.39 L93.75,222.37 L94.00,222.36 L94.25,222.34 L94.50,222.33 L94.75,222.31 L95.00,222.29 L95.25,222.27 L95.50,222.26 L95.75,222.24 L96.00,222.22 L96.25,222.20 L96.50,222.18 L96.75,222.16 L97.00,222.14 L97.25,222.12 L97.50,222.10 L97.75,222.08 L98.00,222.06 L98.25,222.03 L98.50,222.01 L98.75,221.99 L99.00,221.96 L99.25,221.94 L99.50,221.91 L99.75,221.88 L100.00,221.86 L100.25,221.83 L100.50,221.80 L100.75,221.77 L101.00,221.74 L101.25,221.71 L101.50,221.67 L101.75,221.64 L102.00,221.61 L102.25,221.57 L102.50,221.53 L102.75,221.50 L103.00,221.46 L103.25,221.42 L103.50,221.38 L103.75,221.33 L104.00,221.29 L104.25,221.24 L104.50,221.20 L104.75,221.15 L105.00,221.10 L105.25,221.05 L105.50,220.99 L105.75,220.94 L106.00,220.88 L106.25,220.82 L106.50,220.76 L106.75,220.70 L107.00,220.63 L107.25,220.56 L107.50,220.49 L107.75,220.42 L108.00,220.34 L108.25,220.26 L108.50,220.18 L108.75,220.10 L109.00,220.01 L109.25,219.91 L109.50,219.82 L109.75,219.72 L110.00,219.61 L110.25,219.50 L110.50,219.38 L110.75,219.26 L111.00,219.13 L111.25,219.00 L111.50,218.85 L111.75,218.70 L112.00,218.54 L112.25,218.37 L112.50,218.19 L112.75,217.99 L113.00,217.78 L113.25,217.56 L113.50,217.31 L113.75,217.05 L114.00,216.76 L114.25,216.44 L114.50,216.09 L114.75,215.70 L115.00,215.28 L115.25,214.81 L115.50,214.29 L115.75,213.71 L116.00,213.07 L116.25,212.36 L116.50,211.56 L116.75,210.68 L117.00,209.70 L117.25,208.61 L117.50,207.41 L117.75,206.07 L118.00,204.60 L118.25,202.98 L118.50,201.19 L118.75,199.23 L119.00,197.09 L119.25,194.76 L119.50,192.24 L119.75,189.50 L120.00,186.56 L120.25,183.39 L120.50,180.02 L120.75,176.42 L121.00,172.61 L121.25,168.59 L121.50,164.37 L121.75,159.97 L122.00,155.39 L122.25,150.67 L122.50,145.81 L122.75,140.86 L123.00,135.83 L123.25,130.78 L123.50,125.74 L123.75,120.76 L124.00,115.90 L124.25,111.20 L124.50,106.74 L124.75,102.57 L125.00,98.77 L125.25,95.40 L125.50,92.53 L125.75,90.22 L126.00,88.52 L126.25,87.46 L126.50,87.07 L126.75,87.22 L127.00,87.77 L127.25,88.72 L127.50,90.05 L127.75,91.73 L128.00,93.75 L128.25,96.08 L128.50,98.68 L128.75,101.54 L129.00,104.60 L129.25,107.86 L129.50,111.26 L129.75,114.79 L130.00,118.41 L130.25,122.11 L130.50,125.85 L130.75,129.61 L131.00,133.37 L131.25,137.14 L131.50,140.87 L131.75,144.56 L132.00,148.19 L132.25,151.75 L132.50,155.23 L132.75,158.62 L133.00,161.90 L133.25,165.08 L133.50,168.15 L133.75,171.11 L134.00,173.94 L134.25,176.66 L134.50,179.24 L134.75,181.71 L135.00,184.05 L135.25,186.27 L135.50,188.37 L135.75,190.35 L136.00,192.21 L136.25,193.95 L136.50,195.59 L136.75,197.13 L137.00,198.56 L137.25,199.89 L137.50,201.13 L137.75,202.29 L138.00,203.36 L138.25,204.35 L138.50,205.27 L138.75,206.13 L139.00,206.92 L139.25,207.65 L139.50,208.32 L139.75,208.94 L140.00,209.52 L140.25,210.05 L140.50,210.55 L140.75,211.00 L141.00,211.43 L141.25,211.82 L141.50,212.19 L141.75,212.53 L142.00,212.84 L142.25,213.14 L142.50,213.42 L142.75,213.68 L143.00,213.92 L143.25,214.15 L143.50,214.37 L143.75,214.58 L144.00,214.77 L144.25,214.96 L144.50,215.14 L144.75,215.30 L145.00,215.47 L145.25,215.62 L145.50,215.77 L145.75,215.91 L146.00,216.05 L146.25,216.18 L146.50,216.31 L146.75,216.43 L147.00,216.55 L147.25,216.66 L147.50,216.78 L147.75,216.88 L148.00,216.99 L148.25,217.09 L148.50,217.19 L148.75,217.29 L149.00,217.38 L149.25,217.47 L149.50,217.56 L149.75,217.65 L150.00,217.73 L150.25,217.82 L150.50,217.90 L150.75,217.98 L151.00,218.05 L151.25,218.13 L151.50,218.20 L151.75,218.27 L152.00,218.34 L152.25,218.41 L152.50,218.48 L152.75,218.55 L153.00,218.61 L153.25,218.67 L153.50,218.74 L153.75,218.80 L154.00,218.86 L154.25,218.91 L154.50,218.97 L154.75,219.03 L155.00,219.08 L155.25,219.13 L155.50,219.19 L155.75,219.24 L156.00,219.29 L156.25,219.34 L156.50,219.39 L156.75,219.44 L157.00,219.48 L157.25,219.53 L157.50,219.58 L157.75,219.62 L158.00,219.66 L158.25,219.71 L158.50,219.75 L158.75,219.79 L159.00,219.83 L159.25,219.87 L159.50,219.91 L159.75,219.95 L160.00,219.99 L160.25,220.03 L160.50,220.06 L160.75,220.10 L161.00,220.14 L161.25,220.17 L161.50,220.21 L161.75,220.24 L162.00,220.27 L162.25,220.31 L162.50,220.34 L162.75,220.37 L163.00,220.40 L163.25,220.44 L163.50,220.47 L163.75,220.50 L164.00,220.53 L164.25,220.56 L164.50,220.59 L164.75,220.61 L165.00,220.64 L165.25,220.67 L165.50,220.70 L165.75,220.72 L166.00,220.75 L166.25,220.78 L166.50,220.80 L166.75,220.83 L167.00,220.85 L167.25,220.88 L167.50,220.90 L167.75,220.93 L168.00,220.95 L168.25,220.98 L168.50,221.00 L168.75,221.02 L169.00,221.05 L169.25,221.07 L169.50,221.09 L169.75,221.11 L170.00,221.13 L170.25,221.16 L170.50,221.18 L170.75,221.20 L171.00,221.22 L171.25,221.24 L171.50,221.26 L171.75,221.28 L172.00,221.30 L172.25,221.32" fill="none" stroke="#3a6632" stroke-width="1.0" stroke-linejoin="round"/>
<rect x="38.30" y="85.40" width="134.00" height="138.80" fill="none" stroke="#4a4a4a" stroke-width="1"/>
<line x1="38.30" y1="224.20" x2="38.30" y2="226.40" stroke="#4a4a4a" stroke-width="0.8"/>
<text x="38.30" y="237.80" font-size="11.5" text-anchor="middle" fill="#333">0.5</text>
<line x1="65.10" y1="224.20" x2="65.10" y2="226.40" stroke="#4a4a4a" stroke-width="0.8"/>
<text x="65.10" y="237.80" font-size="11.5" text-anchor="middle" fill="#333">1.0</text>
<line x1="91.90" y1="224.20" x2="91.90" y2="226.40" stroke="#4a4a4a" stroke-width="0.8"/>
<text x="91.90" y="237.80" font-size="11.5" text-anchor="middle" fill="#333">1.5</text>
<line x1="118.70" y1="224.20" x2="118.70" y2="226.40" stroke="#4a4a4a" stroke-width="0.8"/>
<text x="118.70" y="237.80" font-size="11.5" text-anchor="middle" fill="#333">2.0</text>
<line x1="145.50" y1="224.20" x2="145.50" y2="226.40" stroke="#4a4a4a" stroke-width="0.8"/>
<text x="145.50" y="237.80" font-size="11.5" text-anchor="middle" fill="#333">2.5</text>
<line x1="172.30" y1="224.20" x2="172.30" y2="226.40" stroke="#4a4a4a" stroke-width="0.8"/>
<text x="172.30" y="237.80" font-size="11.5" text-anchor="middle" fill="#333">3.0</text>
<line x1="36.10" y1="224.20" x2="38.30" y2="224.20" stroke="#999" stroke-width="0.8"/>
<text x="33.20" y="228.40" font-size="11.3" text-anchor="end" fill="#333">0</text>
<line x1="36.10" y1="196.44" x2="38.30" y2="196.44" stroke="#999" stroke-width="0.8"/>
<text x="33.20" y="200.64" font-size="11.3" text-anchor="end" fill="#333">0.2</text>
<line x1="36.10" y1="168.68" x2="38.30" y2="168.68" stroke="#999" stroke-width="0.8"/>
<text x="33.20" y="172.88" font-size="11.3" text-anchor="end" fill="#333">0.4</text>
<line x1="36.10" y1="140.92" x2="38.30" y2="140.92" stroke="#999" stroke-width="0.8"/>
<text x="33.20" y="145.12" font-size="11.3" text-anchor="end" fill="#333">0.6</text>
<line x1="36.10" y1="113.16" x2="38.30" y2="113.16" stroke="#999" stroke-width="0.8"/>
<text x="33.20" y="117.36" font-size="11.3" text-anchor="end" fill="#333">0.8</text>
<line x1="36.10" y1="85.40" x2="38.30" y2="85.40" stroke="#999" stroke-width="0.8"/>
<text x="33.20" y="89.60" font-size="11.3" text-anchor="end" fill="#333">1.0</text>
<text x="101.50" y="253.00" font-size="12.6" text-anchor="middle" fill="#1c1c1c">Volume (ml)</text>
<text x="13.30" y="156.10" font-size="12.8" text-anchor="middle" fill="#1c1c1c" transform="rotate(-90 13.30 156.10)" textLength="142.50" lengthAdjust="spacingAndGlyphs">Normalized Intensity (AU)</text>
<text x="73.70" y="76.10" font-size="10.6" text-anchor="start" fill="#1c1c1c" transform="rotate(-90 73.70 76.10)" textLength="55.00" lengthAdjust="spacingAndGlyphs">Thyroglobulin</text>
<line x1="72.40" y1="78.00" x2="72.40" y2="83.80" stroke="#d3e9cc" stroke-width="1.3"/>
<text x="87.90" y="76.80" font-size="10.6" text-anchor="start" fill="#1c1c1c" transform="rotate(-90 87.90 76.80)" textLength="28.80" lengthAdjust="spacingAndGlyphs">Ferritin</text>
<line x1="84.50" y1="78.00" x2="84.50" y2="83.80" stroke="#b5d9a5" stroke-width="1.3"/>
<text x="100.00" y="75.90" font-size="10.6" text-anchor="start" fill="#1c1c1c" transform="rotate(-90 100.00 75.90)" textLength="38.30" lengthAdjust="spacingAndGlyphs">Aldolase</text>
<line x1="98.70" y1="78.00" x2="98.70" y2="83.80" stroke="#92c67e" stroke-width="1.3"/>
<text x="110.60" y="75.90" font-size="10.6" text-anchor="start" fill="#1c1c1c" transform="rotate(-90 110.60 75.90)" textLength="47.50" lengthAdjust="spacingAndGlyphs">Conalbumin</text>
<line x1="107.60" y1="78.00" x2="107.60" y2="83.80" stroke="#6cae53" stroke-width="1.3"/>
<text x="120.50" y="75.90" font-size="10.6" text-anchor="start" fill="#1c1c1c" transform="rotate(-90 120.50 75.90)" textLength="41.10" lengthAdjust="spacingAndGlyphs">Ovalbumin</text>
<line x1="113.60" y1="78.00" x2="113.60" y2="83.80" stroke="#4d8f3c" stroke-width="1.3"/>
<text x="128.70" y="75.90" font-size="10.6" text-anchor="start" fill="#1c1c1c" transform="rotate(-90 128.70 75.90)" textLength="75.40" lengthAdjust="spacingAndGlyphs">Chymotrypsinogen A</text>
<line x1="126.70" y1="78.00" x2="126.70" y2="83.80" stroke="#3a6632" stroke-width="1.3"/>
<path d="M39.80,336.60 L40.05,336.60 L40.30,336.60 L40.55,336.60 L40.80,336.60 L41.05,336.60 L41.30,336.60 L41.55,336.60 L41.80,336.60 L42.05,336.60 L42.30,336.60 L42.55,336.60 L42.80,336.60 L43.05,336.60 L43.30,336.60 L43.55,336.60 L43.80,336.60 L44.05,336.60 L44.30,336.60 L44.55,336.60 L44.80,336.60 L45.05,336.60 L45.30,336.60 L45.55,336.60 L45.80,336.60 L46.05,336.60 L46.30,336.60 L46.55,336.60 L46.80,336.60 L47.05,336.60 L47.30,336.60 L47.55,336.60 L47.80,336.60 L48.05,336.60 L48.30,336.60 L48.55,336.60 L48.80,336.60 L49.05,336.60 L49.30,336.60 L49.55,336.60 L49.80,336.60 L50.05,336.60 L50.30,336.60 L50.55,336.60 L50.80,336.60 L51.05,336.60 L51.30,336.60 L51.55,336.60 L51.80,336.60 L52.05,336.60 L52.30,336.60 L52.55,336.60 L52.80,336.60 L53.05,336.60 L53.30,336.60 L53.55,336.60 L53.80,336.60 L54.05,336.60 L54.30,336.60 L54.55,336.60 L54.80,336.60 L55.05,336.60 L55.30,336.60 L55.55,336.60 L55.80,336.60 L56.05,336.60 L56.30,336.60 L56.55,336.60 L56.80,336.60 L57.05,336.60 L57.30,336.60 L57.55,336.60 L57.80,336.60 L58.05,336.60 L58.30,336.60 L58.55,336.60 L58.80,336.60 L59.05,336.60 L59.30,336.60 L59.55,336.60 L59.80,336.60 L60.05,336.60 L60.30,336.60 L60.55,336.60 L60.80,336.60 L61.05,336.60 L61.30,336.60 L61.55,336.60 L61.80,336.60 L62.05,336.60 L62.30,336.60 L62.55,336.60 L62.80,336.60 L63.05,336.60 L63.30,336.60 L63.55,336.60 L63.80,336.60 L64.05,336.60 L64.30,336.60 L64.55,336.60 L64.80,336.60 L65.05,336.60 L65.30,336.60 L65.55,336.60 L65.80,336.60 L66.05,336.60 L66.30,336.60 L66.55,336.60 L66.80,336.60 L67.05,336.60 L67.30,336.60 L67.55,336.60 L67.80,336.60 L68.05,336.60 L68.30,336.60 L68.55,336.60 L68.80,336.60 L69.05,336.60 L69.30,336.60 L69.55,336.60 L69.80,336.60 L70.05,336.60 L70.30,336.60 L70.55,336.60 L70.80,336.60 L71.05,336.60 L71.30,336.60 L71.55,336.60 L71.80,336.60 L72.05,336.60 L72.30,336.60 L72.55,336.60 L72.80,336.60 L73.05,336.60 L73.30,336.60 L73.55,336.60 L73.80,336.60 L74.05,336.60 L74.30,336.60 L74.55,336.60 L74.80,336.60 L75.05,336.60 L75.30,336.60 L75.55,336.60 L75.80,336.60 L76.05,336.60 L76.30,336.60 L76.55,336.60 L76.80,336.60 L77.05,336.60 L77.30,336.60 L77.55,336.60 L77.80,336.60 L78.05,336.60 L78.30,336.60 L78.55,336.59 L78.80,336.59 L79.05,336.59 L79.30,336.59 L79.55,336.58 L79.80,336.58 L80.05,336.57 L80.30,336.57 L80.55,336.56 L80.80,336.55 L81.05,336.54 L81.30,336.52 L81.55,336.50 L81.80,336.48 L82.05,336.45 L82.30,336.42 L82.55,336.38 L82.80,336.33 L83.05,336.28 L83.30,336.21 L83.55,336.13 L83.80,336.04 L84.05,335.93 L84.30,335.80 L84.55,335.65 L84.80,335.48 L85.05,335.28 L85.30,335.04 L85.55,334.78 L85.80,334.47 L86.05,334.12 L86.30,333.73 L86.55,333.28 L86.80,332.77 L87.05,332.21 L87.30,331.57 L87.55,330.86 L87.80,330.08 L88.05,329.21 L88.30,328.25 L88.55,327.20 L88.80,326.05 L89.05,324.80 L89.30,323.44 L89.55,321.98 L89.80,320.41 L90.05,318.73 L90.30,316.94 L90.55,315.04 L90.80,313.03 L91.05,310.93 L91.30,308.73 L91.55,306.44 L91.80,304.07 L92.05,301.63 L92.30,299.13 L92.55,296.59 L92.80,294.01 L93.05,291.41 L93.30,288.82 L93.55,286.24 L93.80,283.70 L94.05,281.22 L94.30,278.81 L94.55,276.49 L94.80,274.29 L95.05,272.22 L95.30,270.29 L95.55,268.54 L95.80,266.97 L96.05,265.60 L96.30,264.44 L96.55,263.51 L96.80,262.81 L97.05,262.34 L97.30,262.12 L97.55,262.34 L97.80,262.90 L98.05,263.64 L98.30,264.54 L98.55,265.59 L98.80,266.76 L99.05,268.04 L99.30,269.41 L99.55,270.86 L99.80,272.37 L100.05,273.92 L100.30,275.80 L100.55,278.07 L100.80,280.64 L101.05,283.44 L101.30,286.37 L101.55,289.35 L101.80,292.29 L102.05,295.11 L102.30,297.72 L102.55,300.04 L102.80,302.29 L103.05,304.55 L103.30,306.79 L103.55,308.99 L103.80,311.11 L104.05,313.12 L104.30,314.98 L104.55,316.67 L104.80,318.15 L105.05,319.38 L105.30,320.42 L105.55,321.37 L105.80,322.25 L106.05,323.06 L106.30,323.81 L106.55,324.49 L106.80,325.12 L107.05,325.69 L107.30,326.22 L107.55,326.69 L107.80,327.14 L108.05,327.56 L108.30,327.96 L108.55,328.34 L108.80,328.70 L109.05,329.03 L109.30,329.33 L109.55,329.61 L109.80,329.86 L110.05,330.08 L110.30,330.28 L110.55,330.46 L110.80,330.63 L111.05,330.80 L111.30,330.96 L111.55,331.11 L111.80,331.26 L112.05,331.39 L112.30,331.53 L112.55,331.65 L112.80,331.77 L113.05,331.89 L113.30,331.99 L113.55,332.10 L113.80,332.19 L114.05,332.29 L114.30,332.38 L114.55,332.46 L114.80,332.54 L115.05,332.61 L115.30,332.69 L115.55,332.76 L115.80,332.83 L116.05,332.90 L116.30,332.97 L116.55,333.03 L116.80,333.10 L117.05,333.16 L117.30,333.22 L117.55,333.28 L117.80,333.33 L118.05,333.38 L118.30,333.43 L118.55,333.48 L118.80,333.52 L119.05,333.56 L119.30,333.60 L119.55,333.63 L119.80,333.66 L120.05,333.69 L120.30,333.71 L120.55,333.73 L120.80,333.75 L121.05,333.77 L121.30,333.79 L121.55,333.81 L121.80,333.83 L122.05,333.85 L122.30,333.86 L122.55,333.88 L122.80,333.90 L123.05,333.91 L123.30,333.93 L123.55,333.94 L123.80,333.96 L124.05,333.97 L124.30,333.98 L124.55,334.00 L124.80,334.01 L125.05,334.02 L125.30,334.03 L125.55,334.04 L125.80,334.05 L126.05,334.06 L126.30,334.07 L126.55,334.09 L126.80,334.09 L127.05,334.10 L127.30,334.11 L127.55,334.12 L127.80,334.13 L128.05,334.14 L128.30,334.15 L128.55,334.16 L128.80,334.16 L129.05,334.17 L129.30,334.18 L129.55,334.19 L129.80,334.19 L130.05,334.20 L130.30,334.21 L130.55,334.22 L130.80,334.22 L131.05,334.23 L131.30,334.24 L131.55,334.24 L131.80,334.25 L132.05,334.26 L132.30,334.27 L132.55,334.27 L132.80,334.28 L133.05,334.29 L133.30,334.29 L133.55,334.30 L133.80,334.31 L134.05,334.31 L134.30,334.32 L134.55,334.33 L134.80,334.33 L135.05,334.34 L135.30,334.34 L135.55,334.35 L135.80,334.35 L136.05,334.36 L136.30,334.36 L136.55,334.37 L136.80,334.37 L137.05,334.38 L137.30,334.38 L137.55,334.38 L137.80,334.39 L138.05,334.39 L138.30,334.39 L138.55,334.39 L138.80,334.40 L139.05,334.40 L139.30,334.40 L139.55,334.40 L139.80,334.40 L140.05,334.40 L140.30,334.40 L140.55,334.39 L140.80,334.37 L141.05,334.35 L141.30,334.33 L141.55,334.30 L141.80,334.28 L142.05,334.24 L142.30,334.21 L142.55,334.18 L142.80,334.15 L143.05,334.11 L143.30,334.08 L143.55,334.05 L143.80,334.02 L144.05,333.99 L144.30,333.97 L144.55,333.94 L144.80,333.91 L145.05,333.87 L145.30,333.84 L145.55,333.80 L145.80,333.77 L146.05,333.74 L146.30,333.70 L146.55,333.67 L146.80,333.64 L147.05,333.61 L147.30,333.58 L147.55,333.56 L147.80,333.54 L148.05,333.52 L148.30,333.51 L148.55,333.50 L148.80,333.50 L149.05,333.50 L149.30,333.51 L149.55,333.53 L149.80,333.55 L150.05,333.57 L150.30,333.60 L150.55,333.63 L150.80,333.67 L151.05,333.70 L151.30,333.74 L151.55,333.78 L151.80,333.82 L152.05,333.86 L152.30,333.90 L152.55,333.94 L152.80,333.97 L153.05,334.01 L153.30,334.04 L153.55,334.07 L153.80,334.11 L154.05,334.15 L154.30,334.18 L154.55,334.22 L154.80,334.26 L155.05,334.30 L155.30,334.34 L155.55,334.38 L155.80,334.42 L156.05,334.46 L156.30,334.50 L156.55,334.54 L156.80,334.58 L157.05,334.62 L157.30,334.66 L157.55,334.70 L157.80,334.73 L158.05,334.77 L158.30,334.80 L158.55,334.84 L158.80,334.87 L159.05,334.90 L159.30,334.93 L159.55,334.96 L159.80,334.98 L160.05,335.00 L160.30,335.03 L160.55,335.05 L160.80,335.07 L161.05,335.10 L161.30,335.12 L161.55,335.14 L161.80,335.16 L162.05,335.19 L162.30,335.21 L162.55,335.23 L162.80,335.25 L163.05,335.27 L163.30,335.29 L163.55,335.31 L163.80,335.33 L164.05,335.36 L164.30,335.38 L164.55,335.40 L164.80,335.42 L165.05,335.43 L165.30,335.45 L165.55,335.47 L165.80,335.49 L166.05,335.51 L166.30,335.53 L166.55,335.54 L166.80,335.56 L167.05,335.58 L167.30,335.59 L167.55,335.61 L167.80,335.62 L168.05,335.64 L168.30,335.65 L168.55,335.66 L168.80,335.68 L169.05,335.69 L169.30,335.70 L169.55,335.71 L169.80,335.72 L170.05,335.73 L170.30,335.74 L170.55,335.75 L170.80,335.76 L171.05,335.77 L171.30,335.78 L171.55,335.78 L171.80,335.79 L172.05,335.79 L172.30,335.80 L172.55,335.80" fill="none" stroke="#4a4a4a" stroke-width="1.0" stroke-linejoin="round"/>
<path d="M39.80,359.00 L40.05,359.00 L40.30,359.00 L40.55,359.00 L40.80,359.00 L41.05,359.00 L41.30,359.00 L41.55,359.00 L41.80,359.00 L42.05,359.00 L42.30,359.00 L42.55,359.00 L42.80,359.00 L43.05,359.00 L43.30,359.00 L43.55,359.00 L43.80,359.00 L44.05,359.00 L44.30,359.00 L44.55,359.00 L44.80,359.00 L45.05,359.00 L45.30,359.00 L45.55,359.00 L45.80,359.00 L46.05,359.00 L46.30,359.00 L46.55,359.00 L46.80,359.00 L47.05,359.00 L47.30,359.00 L47.55,359.00 L47.80,359.00 L48.05,359.00 L48.30,359.00 L48.55,359.00 L48.80,359.00 L49.05,359.00 L49.30,359.00 L49.55,359.00 L49.80,359.00 L50.05,359.00 L50.30,359.00 L50.55,359.00 L50.80,359.00 L51.05,359.00 L51.30,359.00 L51.55,359.00 L51.80,359.00 L52.05,359.00 L52.30,359.00 L52.55,359.00 L52.80,359.00 L53.05,359.00 L53.30,359.00 L53.55,359.00 L53.80,359.00 L54.05,359.00 L54.30,359.00 L54.55,359.00 L54.80,359.00 L55.05,359.00 L55.30,359.00 L55.55,359.00 L55.80,359.00 L56.05,359.00 L56.30,359.00 L56.55,359.00 L56.80,359.00 L57.05,359.00 L57.30,359.00 L57.55,359.00 L57.80,359.00 L58.05,359.00 L58.30,359.00 L58.55,359.00 L58.80,359.00 L59.05,359.00 L59.30,359.00 L59.55,359.00 L59.80,359.00 L60.05,359.00 L60.30,359.00 L60.55,359.00 L60.80,359.00 L61.05,359.00 L61.30,359.00 L61.55,359.00 L61.80,359.00 L62.05,359.00 L62.30,359.00 L62.55,359.00 L62.80,359.00 L63.05,359.00 L63.30,359.00 L63.55,359.00 L63.80,359.00 L64.05,359.00 L64.30,359.00 L64.55,359.00 L64.80,359.00 L65.05,359.00 L65.30,359.00 L65.55,359.00 L65.80,359.00 L66.05,359.00 L66.30,359.00 L66.55,359.00 L66.80,359.00 L67.05,359.00 L67.30,359.00 L67.55,359.00 L67.80,359.00 L68.05,359.00 L68.30,359.00 L68.55,359.00 L68.80,359.00 L69.05,359.00 L69.30,359.00 L69.55,359.00 L69.80,359.00 L70.05,359.00 L70.30,359.00 L70.55,359.00 L70.80,359.00 L71.05,359.00 L71.30,359.00 L71.55,359.00 L71.80,359.00 L72.05,359.00 L72.30,359.00 L72.55,359.00 L72.80,359.00 L73.05,359.00 L73.30,359.00 L73.55,359.00 L73.80,359.00 L74.05,359.00 L74.30,359.00 L74.55,359.00 L74.80,359.00 L75.05,359.00 L75.30,359.00 L75.55,359.00 L75.80,359.00 L76.05,359.00 L76.30,359.00 L76.55,359.00 L76.80,359.00 L77.05,359.00 L77.30,359.00 L77.55,359.00 L77.80,359.00 L78.05,359.00 L78.30,359.00 L78.55,358.99 L78.80,358.99 L79.05,358.99 L79.30,358.99 L79.55,358.98 L79.80,358.98 L80.05,358.97 L80.30,358.97 L80.55,358.96 L80.80,358.95 L81.05,358.94 L81.30,358.92 L81.55,358.90 L81.80,358.88 L82.05,358.85 L82.30,358.82 L82.55,358.78 L82.80,358.73 L83.05,358.68 L83.30,358.61 L83.55,358.53 L83.80,358.44 L84.05,358.33 L84.30,358.20 L84.55,358.05 L84.80,357.88 L85.05,357.68 L85.30,357.44 L85.55,357.18 L85.80,356.87 L86.05,356.52 L86.30,356.13 L86.55,355.68 L86.80,355.17 L87.05,354.61 L87.30,353.97 L87.55,353.26 L87.80,352.48 L88.05,351.61 L88.30,350.65 L88.55,349.60 L88.80,348.45 L89.05,347.20 L89.30,345.84 L89.55,344.38 L89.80,342.81 L90.05,341.13 L90.30,339.34 L90.55,337.44 L90.80,335.43 L91.05,333.33 L91.30,331.13 L91.55,328.84 L91.80,326.47 L92.05,324.03 L92.30,321.53 L92.55,318.99 L92.80,316.41 L93.05,313.81 L93.30,311.22 L93.55,308.64 L93.80,306.10 L94.05,303.62 L94.30,301.21 L94.55,298.89 L94.80,296.69 L95.05,294.62 L95.30,292.69 L95.55,290.94 L95.80,289.37 L96.05,288.00 L96.30,286.84 L96.55,285.91 L96.80,285.21 L97.05,284.74 L97.30,284.52 L97.55,284.77 L97.80,285.37 L98.05,286.13 L98.30,287.04 L98.55,288.08 L98.80,289.24 L99.05,290.51 L99.30,291.87 L99.55,293.30 L99.80,294.78 L100.05,296.32 L100.30,298.17 L100.55,300.41 L100.80,302.93 L101.05,305.67 L101.30,308.51 L101.55,311.39 L101.80,314.20 L102.05,316.87 L102.30,319.29 L102.55,321.39 L102.80,323.31 L103.05,325.11 L103.30,326.81 L103.55,328.42 L103.80,329.92 L104.05,331.36 L104.30,332.81 L104.55,334.26 L104.80,335.72 L105.05,337.15 L105.30,338.56 L105.55,339.92 L105.80,341.23 L106.05,342.47 L106.30,343.62 L106.55,344.68 L106.80,345.64 L107.05,346.47 L107.30,347.16 L107.55,347.71 L107.80,348.14 L108.05,348.53 L108.30,348.89 L108.55,349.22 L108.80,349.52 L109.05,349.80 L109.30,350.06 L109.55,350.31 L109.80,350.53 L110.05,350.75 L110.30,350.95 L110.55,351.15 L110.80,351.34 L111.05,351.54 L111.30,351.73 L111.55,351.92 L111.80,352.10 L112.05,352.27 L112.30,352.44 L112.55,352.61 L112.80,352.76 L113.05,352.92 L113.30,353.07 L113.55,353.21 L113.80,353.34 L114.05,353.48 L114.30,353.60 L114.55,353.72 L114.80,353.83 L115.05,353.94 L115.30,354.04 L115.55,354.14 L115.80,354.23 L116.05,354.33 L116.30,354.42 L116.55,354.51 L116.80,354.60 L117.05,354.68 L117.30,354.77 L117.55,354.85 L117.80,354.92 L118.05,355.00 L118.30,355.07 L118.55,355.15 L118.80,355.21 L119.05,355.28 L119.30,355.34 L119.55,355.40 L119.80,355.46 L120.05,355.52 L120.30,355.57 L120.55,355.62 L120.80,355.66 L121.05,355.71 L121.30,355.75 L121.55,355.79 L121.80,355.83 L122.05,355.87 L122.30,355.90 L122.55,355.94 L122.80,355.97 L123.05,356.01 L123.30,356.04 L123.55,356.07 L123.80,356.10 L124.05,356.13 L124.30,356.16 L124.55,356.18 L124.80,356.21 L125.05,356.24 L125.30,356.26 L125.55,356.29 L125.80,356.31 L126.05,356.34 L126.30,356.36 L126.55,356.39 L126.80,356.41 L127.05,356.44 L127.30,356.46 L127.55,356.49 L127.80,356.51 L128.05,356.53 L128.30,356.56 L128.55,356.58 L128.80,356.61 L129.05,356.64 L129.30,356.66 L129.55,356.69 L129.80,356.71 L130.05,356.74 L130.30,356.76 L130.55,356.79 L130.80,356.81 L131.05,356.84 L131.30,356.86 L131.55,356.88 L131.80,356.90 L132.05,356.93 L132.30,356.95 L132.55,356.97 L132.80,356.98 L133.05,357.00 L133.30,357.02 L133.55,357.04 L133.80,357.05 L134.05,357.06 L134.30,357.07 L134.55,357.08 L134.80,357.09 L135.05,357.10 L135.30,357.11 L135.55,357.12 L135.80,357.12 L136.05,357.13 L136.30,357.13 L136.55,357.14 L136.80,357.15 L137.05,357.15 L137.30,357.16 L137.55,357.16 L137.80,357.17 L138.05,357.17 L138.30,357.18 L138.55,357.18 L138.80,357.19 L139.05,357.19 L139.30,357.19 L139.55,357.19 L139.80,357.20 L140.05,357.20 L140.30,357.20 L140.55,357.20 L140.80,357.20 L141.05,357.19 L141.30,357.17 L141.55,357.14 L141.80,357.10 L142.05,357.04 L142.30,356.98 L142.55,356.91 L142.80,356.83 L143.05,356.74 L143.30,356.65 L143.55,356.56 L143.80,356.47 L144.05,356.37 L144.30,356.27 L144.55,356.17 L144.80,356.08 L145.05,355.98 L145.30,355.87 L145.55,355.74 L145.80,355.59 L146.05,355.42 L146.30,355.25 L146.55,355.07 L146.80,354.89 L147.05,354.72 L147.30,354.56 L147.55,354.40 L147.80,354.27 L148.05,354.16 L148.30,354.07 L148.55,354.02 L148.80,354.00 L149.05,354.01 L149.30,354.03 L149.55,354.07 L149.80,354.13 L150.05,354.19 L150.30,354.26 L150.55,354.33 L150.80,354.41 L151.05,354.50 L151.30,354.58 L151.55,354.66 L151.80,354.74 L152.05,354.81 L152.30,354.89 L152.55,354.97 L152.80,355.05 L153.05,355.14 L153.30,355.22 L153.55,355.32 L153.80,355.41 L154.05,355.50 L154.30,355.60 L154.55,355.70 L154.80,355.79 L155.05,355.89 L155.30,355.98 L155.55,356.08 L155.80,356.17 L156.05,356.26 L156.30,356.34 L156.55,356.42 L156.80,356.50 L157.05,356.57 L157.30,356.64 L157.55,356.70 L157.80,356.76 L158.05,356.81 L158.30,356.86 L158.55,356.90 L158.80,356.94 L159.05,356.99 L159.30,357.03 L159.55,357.07 L159.80,357.11 L160.05,357.15 L160.30,357.18 L160.55,357.22 L160.80,357.26 L161.05,357.29 L161.30,357.32 L161.55,357.35 L161.80,357.39 L162.05,357.42 L162.30,357.44 L162.55,357.47 L162.80,357.50 L163.05,357.53 L163.30,357.55 L163.55,357.58 L163.80,357.60 L164.05,357.62 L164.30,357.64 L164.55,357.66 L164.80,357.68 L165.05,357.70 L165.30,357.72 L165.55,357.74 L165.80,357.76 L166.05,357.78 L166.30,357.80 L166.55,357.81 L166.80,357.83 L167.05,357.85 L167.30,357.87 L167.55,357.88 L167.80,357.90 L168.05,357.92 L168.30,357.93 L168.55,357.95 L168.80,357.96 L169.05,357.97 L169.30,357.99 L169.55,358.00 L169.80,358.01 L170.05,358.02 L170.30,358.04 L170.55,358.05 L170.80,358.06 L171.05,358.06 L171.30,358.07 L171.55,358.08 L171.80,358.09 L172.05,358.09 L172.30,358.10 L172.55,358.10" fill="none" stroke="#4a4a4a" stroke-width="1.0" stroke-linejoin="round"/>
<path d="M39.80,381.10 L40.05,381.10 L40.30,381.10 L40.55,381.10 L40.80,381.10 L41.05,381.10 L41.30,381.10 L41.55,381.10 L41.80,381.10 L42.05,381.10 L42.30,381.10 L42.55,381.10 L42.80,381.10 L43.05,381.10 L43.30,381.10 L43.55,381.10 L43.80,381.10 L44.05,381.10 L44.30,381.10 L44.55,381.10 L44.80,381.10 L45.05,381.10 L45.30,381.10 L45.55,381.10 L45.80,381.10 L46.05,381.10 L46.30,381.10 L46.55,381.10 L46.80,381.10 L47.05,381.10 L47.30,381.10 L47.55,381.10 L47.80,381.10 L48.05,381.10 L48.30,381.10 L48.55,381.10 L48.80,381.10 L49.05,381.10 L49.30,381.10 L49.55,381.10 L49.80,381.10 L50.05,381.10 L50.30,381.10 L50.55,381.10 L50.80,381.10 L51.05,381.10 L51.30,381.10 L51.55,381.10 L51.80,381.10 L52.05,381.10 L52.30,381.10 L52.55,381.10 L52.80,381.10 L53.05,381.10 L53.30,381.10 L53.55,381.10 L53.80,381.10 L54.05,381.10 L54.30,381.10 L54.55,381.10 L54.80,381.10 L55.05,381.10 L55.30,381.10 L55.55,381.10 L55.80,381.10 L56.05,381.10 L56.30,381.10 L56.55,381.10 L56.80,381.10 L57.05,381.10 L57.30,381.10 L57.55,381.10 L57.80,381.10 L58.05,381.10 L58.30,381.10 L58.55,381.10 L58.80,381.10 L59.05,381.10 L59.30,381.10 L59.55,381.10 L59.80,381.10 L60.05,381.10 L60.30,381.10 L60.55,381.10 L60.80,381.10 L61.05,381.10 L61.30,381.10 L61.55,381.10 L61.80,381.10 L62.05,381.10 L62.30,381.10 L62.55,381.10 L62.80,381.10 L63.05,381.10 L63.30,381.10 L63.55,381.10 L63.80,381.10 L64.05,381.10 L64.30,381.10 L64.55,381.10 L64.80,381.10 L65.05,381.10 L65.30,381.10 L65.55,381.10 L65.80,381.10 L66.05,381.10 L66.30,381.10 L66.55,381.10 L66.80,381.10 L67.05,381.10 L67.30,381.10 L67.55,381.10 L67.80,381.10 L68.05,381.10 L68.30,381.10 L68.55,381.10 L68.80,381.10 L69.05,381.10 L69.30,381.10 L69.55,381.10 L69.80,381.10 L70.05,381.10 L70.30,381.10 L70.55,381.10 L70.80,381.10 L71.05,381.10 L71.30,381.10 L71.55,381.10 L71.80,381.10 L72.05,381.10 L72.30,381.10 L72.55,381.10 L72.80,381.10 L73.05,381.10 L73.30,381.10 L73.55,381.10 L73.80,381.10 L74.05,381.10 L74.30,381.10 L74.55,381.10 L74.80,381.10 L75.05,381.10 L75.30,381.10 L75.55,381.10 L75.80,381.10 L76.05,381.10 L76.30,381.10 L76.55,381.10 L76.80,381.10 L77.05,381.10 L77.30,381.10 L77.55,381.10 L77.80,381.10 L78.05,381.10 L78.30,381.10 L78.55,381.09 L78.80,381.09 L79.05,381.09 L79.30,381.09 L79.55,381.09 L79.80,381.08 L80.05,381.08 L80.30,381.07 L80.55,381.07 L80.80,381.06 L81.05,381.05 L81.30,381.03 L81.55,381.02 L81.80,381.00 L82.05,380.98 L82.30,380.95 L82.55,380.91 L82.80,380.87 L83.05,380.82 L83.30,380.77 L83.55,380.70 L83.80,380.62 L84.05,380.52 L84.30,380.41 L84.55,380.27 L84.80,380.12 L85.05,379.94 L85.30,379.74 L85.55,379.50 L85.80,379.22 L86.05,378.91 L86.30,378.56 L86.55,378.15 L86.80,377.69 L87.05,377.18 L87.30,376.60 L87.55,375.95 L87.80,375.23 L88.05,374.43 L88.30,373.54 L88.55,372.57 L88.80,371.50 L89.05,370.33 L89.30,369.07 L89.55,367.69 L89.80,366.21 L90.05,364.62 L90.30,362.93 L90.55,361.12 L90.80,359.20 L91.05,357.19 L91.30,355.07 L91.55,352.85 L91.80,350.55 L92.05,348.18 L92.30,345.73 L92.55,343.23 L92.80,340.68 L93.05,338.11 L93.30,335.52 L93.55,332.93 L93.80,330.37 L94.05,327.84 L94.30,325.38 L94.55,322.99 L94.80,320.70 L95.05,318.53 L95.30,316.49 L95.55,314.61 L95.80,312.90 L96.05,311.37 L96.30,310.04 L96.55,308.93 L96.80,308.05 L97.05,307.39 L97.30,306.98 L97.55,306.80 L97.80,307.11 L98.05,307.60 L98.30,308.18 L98.55,308.86 L98.80,309.62 L99.05,310.45 L99.30,311.35 L99.55,312.29 L99.80,313.28 L100.05,314.31 L100.30,315.46 L100.55,316.77 L100.80,318.22 L101.05,319.79 L101.30,321.46 L101.55,323.21 L101.80,325.03 L102.05,326.90 L102.30,328.80 L102.55,330.72 L102.80,332.73 L103.05,335.00 L103.30,337.47 L103.55,340.05 L103.80,342.68 L104.05,345.27 L104.30,347.76 L104.55,350.06 L104.80,352.10 L105.05,353.81 L105.30,355.22 L105.55,356.55 L105.80,357.79 L106.05,358.96 L106.30,360.04 L106.55,361.04 L106.80,361.96 L107.05,362.80 L107.30,363.56 L107.55,364.23 L107.80,364.84 L108.05,365.42 L108.30,365.95 L108.55,366.45 L108.80,366.92 L109.05,367.36 L109.30,367.78 L109.55,368.17 L109.80,368.54 L110.05,368.89 L110.30,369.24 L110.55,369.57 L110.80,369.89 L111.05,370.20 L111.30,370.50 L111.55,370.78 L111.80,371.06 L112.05,371.33 L112.30,371.59 L112.55,371.84 L112.80,372.08 L113.05,372.31 L113.30,372.53 L113.55,372.74 L113.80,372.94 L114.05,373.14 L114.30,373.33 L114.55,373.51 L114.80,373.70 L115.05,373.88 L115.30,374.05 L115.55,374.22 L115.80,374.38 L116.05,374.54 L116.30,374.69 L116.55,374.84 L116.80,374.97 L117.05,375.10 L117.30,375.22 L117.55,375.33 L117.80,375.43 L118.05,375.52 L118.30,375.60 L118.55,375.68 L118.80,375.76 L119.05,375.84 L119.30,375.91 L119.55,375.99 L119.80,376.05 L120.05,376.12 L120.30,376.19 L120.55,376.25 L120.80,376.31 L121.05,376.37 L121.30,376.42 L121.55,376.48 L121.80,376.53 L122.05,376.58 L122.30,376.62 L122.55,376.67 L122.80,376.71 L123.05,376.76 L123.30,376.80 L123.55,376.83 L123.80,376.87 L124.05,376.91 L124.30,376.94 L124.55,376.97 L124.80,377.00 L125.05,377.03 L125.30,377.06 L125.55,377.09 L125.80,377.12 L126.05,377.14 L126.30,377.17 L126.55,377.19 L126.80,377.22 L127.05,377.24 L127.30,377.26 L127.55,377.29 L127.80,377.31 L128.05,377.33 L128.30,377.35 L128.55,377.37 L128.80,377.39 L129.05,377.42 L129.30,377.44 L129.55,377.46 L129.80,377.48 L130.05,377.50 L130.30,377.53 L130.55,377.55 L130.80,377.58 L131.05,377.61 L131.30,377.63 L131.55,377.66 L131.80,377.69 L132.05,377.72 L132.30,377.74 L132.55,377.77 L132.80,377.80 L133.05,377.82 L133.30,377.85 L133.55,377.87 L133.80,377.89 L134.05,377.91 L134.30,377.93 L134.55,377.95 L134.80,377.97 L135.05,377.98 L135.30,377.99 L135.55,377.99 L135.80,378.00 L136.05,378.00 L136.30,378.00 L136.55,378.00 L136.80,378.00 L137.05,378.00 L137.30,378.00 L137.55,378.00 L137.80,378.00 L138.05,378.00 L138.30,378.00 L138.55,378.00 L138.80,378.00 L139.05,378.00 L139.30,378.00 L139.55,378.00 L139.80,378.00 L140.05,378.00 L140.30,378.00 L140.55,378.00 L140.80,378.00 L141.05,378.00 L141.30,378.00 L141.55,378.00 L141.80,378.00 L142.05,378.00 L142.30,377.99 L142.55,377.98 L142.80,377.95 L143.05,377.92 L143.30,377.89 L143.55,377.84 L143.80,377.79 L144.05,377.74 L144.30,377.68 L144.55,377.62 L144.80,377.56 L145.05,377.49 L145.30,377.43 L145.55,377.36 L145.80,377.29 L146.05,377.23 L146.30,377.17 L146.55,377.11 L146.80,377.05 L147.05,377.00 L147.30,376.95 L147.55,376.91 L147.80,376.87 L148.05,376.84 L148.30,376.82 L148.55,376.80 L148.80,376.80 L149.05,376.80 L149.30,376.82 L149.55,376.84 L149.80,376.87 L150.05,376.91 L150.30,376.95 L150.55,376.99 L150.80,377.05 L151.05,377.10 L151.30,377.16 L151.55,377.22 L151.80,377.28 L152.05,377.35 L152.30,377.41 L152.55,377.48 L152.80,377.54 L153.05,377.60 L153.30,377.66 L153.55,377.71 L153.80,377.76 L154.05,377.81 L154.30,377.85 L154.55,377.90 L154.80,377.94 L155.05,377.99 L155.30,378.03 L155.55,378.08 L155.80,378.13 L156.05,378.17 L156.30,378.22 L156.55,378.26 L156.80,378.31 L157.05,378.35 L157.30,378.40 L157.55,378.44 L157.80,378.49 L158.05,378.53 L158.30,378.57 L158.55,378.62 L158.80,378.66 L159.05,378.70 L159.30,378.74 L159.55,378.78 L159.80,378.81 L160.05,378.85 L160.30,378.89 L160.55,378.92 L160.80,378.96 L161.05,378.99 L161.30,379.02 L161.55,379.05 L161.80,379.08 L162.05,379.11 L162.30,379.13 L162.55,379.16 L162.80,379.18 L163.05,379.21 L163.30,379.24 L163.55,379.26 L163.80,379.29 L164.05,379.31 L164.30,379.34 L164.55,379.36 L164.80,379.38 L165.05,379.41 L165.30,379.43 L165.55,379.45 L165.80,379.48 L166.05,379.50 L166.30,379.52 L166.55,379.54 L166.80,379.57 L167.05,379.59 L167.30,379.61 L167.55,379.63 L167.80,379.65 L168.05,379.67 L168.30,379.68 L168.55,379.70 L168.80,379.72 L169.05,379.74 L169.30,379.75 L169.55,379.77 L169.80,379.78 L170.05,379.80 L170.30,379.81 L170.55,379.82 L170.80,379.84 L171.05,379.85 L171.30,379.86 L171.55,379.87 L171.80,379.88 L172.05,379.89 L172.30,379.89 L172.55,379.90" fill="none" stroke="#4a4a4a" stroke-width="1.0" stroke-linejoin="round"/>
<path d="M39.80,403.20 L40.05,403.20 L40.30,403.20 L40.55,403.20 L40.80,403.20 L41.05,403.20 L41.30,403.20 L41.55,403.20 L41.80,403.20 L42.05,403.20 L42.30,403.20 L42.55,403.20 L42.80,403.20 L43.05,403.20 L43.30,403.20 L43.55,403.20 L43.80,403.20 L44.05,403.20 L44.30,403.20 L44.55,403.20 L44.80,403.20 L45.05,403.20 L45.30,403.20 L45.55,403.20 L45.80,403.20 L46.05,403.20 L46.30,403.20 L46.55,403.20 L46.80,403.20 L47.05,403.20 L47.30,403.20 L47.55,403.20 L47.80,403.20 L48.05,403.20 L48.30,403.20 L48.55,403.20 L48.80,403.20 L49.05,403.20 L49.30,403.20 L49.55,403.20 L49.80,403.20 L50.05,403.20 L50.30,403.20 L50.55,403.20 L50.80,403.20 L51.05,403.20 L51.30,403.20 L51.55,403.20 L51.80,403.20 L52.05,403.20 L52.30,403.20 L52.55,403.20 L52.80,403.20 L53.05,403.20 L53.30,403.20 L53.55,403.20 L53.80,403.20 L54.05,403.20 L54.30,403.20 L54.55,403.20 L54.80,403.20 L55.05,403.20 L55.30,403.20 L55.55,403.20 L55.80,403.20 L56.05,403.20 L56.30,403.20 L56.55,403.20 L56.80,403.20 L57.05,403.20 L57.30,403.20 L57.55,403.20 L57.80,403.20 L58.05,403.20 L58.30,403.20 L58.55,403.20 L58.80,403.20 L59.05,403.20 L59.30,403.20 L59.55,403.20 L59.80,403.20 L60.05,403.20 L60.30,403.20 L60.55,403.20 L60.80,403.20 L61.05,403.20 L61.30,403.20 L61.55,403.20 L61.80,403.20 L62.05,403.20 L62.30,403.20 L62.55,403.20 L62.80,403.20 L63.05,403.20 L63.30,403.20 L63.55,403.20 L63.80,403.20 L64.05,403.20 L64.30,403.20 L64.55,403.20 L64.80,403.20 L65.05,403.20 L65.30,403.20 L65.55,403.20 L65.80,403.20 L66.05,403.20 L66.30,403.20 L66.55,403.20 L66.80,403.20 L67.05,403.20 L67.30,403.20 L67.55,403.20 L67.80,403.20 L68.05,403.20 L68.30,403.20 L68.55,403.20 L68.80,403.20 L69.05,403.20 L69.30,403.20 L69.55,403.20 L69.80,403.20 L70.05,403.20 L70.30,403.20 L70.55,403.20 L70.80,403.20 L71.05,403.20 L71.30,403.20 L71.55,403.20 L71.80,403.20 L72.05,403.20 L72.30,403.20 L72.55,403.20 L72.80,403.20 L73.05,403.20 L73.30,403.20 L73.55,403.20 L73.80,403.20 L74.05,403.20 L74.30,403.20 L74.55,403.20 L74.80,403.20 L75.05,403.20 L75.30,403.20 L75.55,403.20 L75.80,403.20 L76.05,403.20 L76.30,403.20 L76.55,403.20 L76.80,403.20 L77.05,403.20 L77.30,403.20 L77.55,403.20 L77.80,403.20 L78.05,403.20 L78.30,403.19 L78.55,403.19 L78.80,403.19 L79.05,403.19 L79.30,403.18 L79.55,403.18 L79.80,403.18 L80.05,403.17 L80.30,403.16 L80.55,403.15 L80.80,403.14 L81.05,403.12 L81.30,403.11 L81.55,403.09 L81.80,403.06 L82.05,403.03 L82.30,402.99 L82.55,402.94 L82.80,402.89 L83.05,402.83 L83.30,402.75 L83.55,402.66 L83.80,402.55 L84.05,402.43 L84.30,402.29 L84.55,402.12 L84.80,401.92 L85.05,401.70 L85.30,401.44 L85.55,401.14 L85.80,400.80 L86.05,400.42 L86.30,399.98 L86.55,399.49 L86.80,398.94 L87.05,398.32 L87.30,397.62 L87.55,396.86 L87.80,396.01 L88.05,395.07 L88.30,394.04 L88.55,392.91 L88.80,391.68 L89.05,390.35 L89.30,388.92 L89.55,387.37 L89.80,385.72 L90.05,383.95 L90.30,382.08 L90.55,380.11 L90.80,378.03 L91.05,375.85 L91.30,373.58 L91.55,371.24 L91.80,368.82 L92.05,366.33 L92.30,363.80 L92.55,361.24 L92.80,358.65 L93.05,356.06 L93.30,353.49 L93.55,350.95 L93.80,348.46 L94.05,346.04 L94.30,343.71 L94.55,341.48 L94.80,339.39 L95.05,337.44 L95.30,335.66 L95.55,334.06 L95.80,332.65 L96.05,331.45 L96.30,330.47 L96.55,329.72 L96.80,329.21 L97.05,328.94 L97.30,329.14 L97.55,329.85 L97.80,330.73 L98.05,331.74 L98.30,332.89 L98.55,334.16 L98.80,335.54 L99.05,337.00 L99.30,338.55 L99.55,340.16 L99.80,341.83 L100.05,343.55 L100.30,345.57 L100.55,347.94 L100.80,350.55 L101.05,353.30 L101.30,356.08 L101.55,358.80 L101.80,361.35 L102.05,363.63 L102.30,365.76 L102.55,367.81 L102.80,369.79 L103.05,371.72 L103.30,373.59 L103.55,375.41 L103.80,377.20 L104.05,378.97 L104.30,380.78 L104.55,382.59 L104.80,384.33 L105.05,385.92 L105.30,387.29 L105.55,388.40 L105.80,389.36 L106.05,390.24 L106.30,391.05 L106.55,391.80 L106.80,392.47 L107.05,393.08 L107.30,393.63 L107.55,394.11 L107.80,394.54 L108.05,394.95 L108.30,395.34 L108.55,395.70 L108.80,396.03 L109.05,396.33 L109.30,396.60 L109.55,396.85 L109.80,397.06 L110.05,397.23 L110.30,397.39 L110.55,397.54 L110.80,397.68 L111.05,397.81 L111.30,397.93 L111.55,398.04 L111.80,398.13 L112.05,398.22 L112.30,398.30 L112.55,398.37 L112.80,398.42 L113.05,398.47 L113.30,398.52 L113.55,398.57 L113.80,398.62 L114.05,398.66 L114.30,398.70 L114.55,398.74 L114.80,398.77 L115.05,398.81 L115.30,398.84 L115.55,398.87 L115.80,398.90 L116.05,398.93 L116.30,398.96 L116.55,398.98 L116.80,399.01 L117.05,399.03 L117.30,399.05 L117.55,399.07 L117.80,399.09 L118.05,399.10 L118.30,399.12 L118.55,399.14 L118.80,399.15 L119.05,399.16 L119.30,399.18 L119.55,399.19 L119.80,399.21 L120.05,399.22 L120.30,399.23 L120.55,399.24 L120.80,399.25 L121.05,399.26 L121.30,399.27 L121.55,399.29 L121.80,399.29 L122.05,399.30 L122.30,399.31 L122.55,399.32 L122.80,399.33 L123.05,399.34 L123.30,399.35 L123.55,399.36 L123.80,399.36 L124.05,399.37 L124.30,399.38 L124.55,399.39 L124.80,399.39 L125.05,399.40 L125.30,399.41 L125.55,399.42 L125.80,399.42 L126.05,399.43 L126.30,399.44 L126.55,399.44 L126.80,399.45 L127.05,399.46 L127.30,399.47 L127.55,399.47 L127.80,399.48 L128.05,399.49 L128.30,399.49 L128.55,399.50 L128.80,399.51 L129.05,399.52 L129.30,399.52 L129.55,399.53 L129.80,399.54 L130.05,399.54 L130.30,399.55 L130.55,399.56 L130.80,399.56 L131.05,399.57 L131.30,399.57 L131.55,399.58 L131.80,399.59 L132.05,399.59 L132.30,399.60 L132.55,399.60 L132.80,399.61 L133.05,399.62 L133.30,399.62 L133.55,399.63 L133.80,399.63 L134.05,399.64 L134.30,399.64 L134.55,399.65 L134.80,399.65 L135.05,399.65 L135.30,399.66 L135.55,399.66 L135.80,399.67 L136.05,399.67 L136.30,399.67 L136.55,399.68 L136.80,399.68 L137.05,399.68 L137.30,399.69 L137.55,399.69 L137.80,399.69 L138.05,399.69 L138.30,399.69 L138.55,399.70 L138.80,399.70 L139.05,399.70 L139.30,399.70 L139.55,399.70 L139.80,399.70 L140.05,399.70 L140.30,399.70 L140.55,399.70 L140.80,399.70 L141.05,399.69 L141.30,399.69 L141.55,399.68 L141.80,399.68 L142.05,399.67 L142.30,399.67 L142.55,399.66 L142.80,399.65 L143.05,399.64 L143.30,399.64 L143.55,399.63 L143.80,399.62 L144.05,399.61 L144.30,399.60 L144.55,399.59 L144.80,399.59 L145.05,399.58 L145.30,399.57 L145.55,399.56 L145.80,399.55 L146.05,399.55 L146.30,399.54 L146.55,399.53 L146.80,399.53 L147.05,399.52 L147.30,399.52 L147.55,399.51 L147.80,399.51 L148.05,399.50 L148.30,399.50 L148.55,399.50 L148.80,399.50 L149.05,399.50 L149.30,399.51 L149.55,399.53 L149.80,399.55 L150.05,399.57 L150.30,399.60 L150.55,399.64 L150.80,399.67 L151.05,399.71 L151.30,399.75 L151.55,399.80 L151.80,399.85 L152.05,399.89 L152.30,399.94 L152.55,399.99 L152.80,400.04 L153.05,400.09 L153.30,400.14 L153.55,400.18 L153.80,400.23 L154.05,400.27 L154.30,400.31 L154.55,400.34 L154.80,400.38 L155.05,400.41 L155.30,400.43 L155.55,400.46 L155.80,400.49 L156.05,400.51 L156.30,400.54 L156.55,400.56 L156.80,400.59 L157.05,400.61 L157.30,400.64 L157.55,400.66 L157.80,400.69 L158.05,400.71 L158.30,400.73 L158.55,400.75 L158.80,400.78 L159.05,400.80 L159.30,400.82 L159.55,400.84 L159.80,400.86 L160.05,400.88 L160.30,400.90 L160.55,400.92 L160.80,400.94 L161.05,400.96 L161.30,400.98 L161.55,401.00 L161.80,401.02 L162.05,401.03 L162.30,401.05 L162.55,401.07 L162.80,401.09 L163.05,401.10 L163.30,401.12 L163.55,401.14 L163.80,401.15 L164.05,401.17 L164.30,401.18 L164.55,401.20 L164.80,401.22 L165.05,401.23 L165.30,401.25 L165.55,401.26 L165.80,401.28 L166.05,401.29 L166.30,401.31 L166.55,401.32 L166.80,401.34 L167.05,401.35 L167.30,401.36 L167.55,401.38 L167.80,401.39 L168.05,401.40 L168.30,401.42 L168.55,401.43 L168.80,401.44 L169.05,401.46 L169.30,401.47 L169.55,401.48 L169.80,401.49 L170.05,401.50 L170.30,401.51 L170.55,401.52 L170.80,401.54 L171.05,401.55 L171.30,401.56 L171.55,401.57 L171.80,401.58 L172.05,401.58 L172.30,401.59 L172.55,401.60" fill="none" stroke="#4a4a4a" stroke-width="1.0" stroke-linejoin="round"/>
<line x1="38.30" y1="403.90" x2="172.30" y2="403.90" stroke="#4a4a4a" stroke-width="1"/>
<line x1="38.30" y1="403.90" x2="38.30" y2="406.00" stroke="#4a4a4a" stroke-width="0.8"/>
<text x="38.30" y="417.80" font-size="11.5" text-anchor="middle" fill="#333">0.5</text>
<line x1="65.10" y1="403.90" x2="65.10" y2="406.00" stroke="#4a4a4a" stroke-width="0.8"/>
<text x="65.10" y="417.80" font-size="11.5" text-anchor="middle" fill="#333">1.0</text>
<line x1="91.90" y1="403.90" x2="91.90" y2="406.00" stroke="#4a4a4a" stroke-width="0.8"/>
<text x="91.90" y="417.80" font-size="11.5" text-anchor="middle" fill="#333">1.5</text>
<line x1="118.70" y1="403.90" x2="118.70" y2="406.00" stroke="#4a4a4a" stroke-width="0.8"/>
<text x="118.70" y="417.80" font-size="11.5" text-anchor="middle" fill="#333">2.0</text>
<line x1="145.50" y1="403.90" x2="145.50" y2="406.00" stroke="#4a4a4a" stroke-width="0.8"/>
<text x="145.50" y="417.80" font-size="11.5" text-anchor="middle" fill="#333">2.5</text>
<line x1="172.30" y1="403.90" x2="172.30" y2="406.00" stroke="#4a4a4a" stroke-width="0.8"/>
<text x="172.30" y="417.80" font-size="11.5" text-anchor="middle" fill="#333">3.0</text>
<text x="101.50" y="433.10" font-size="12.6" text-anchor="middle" fill="#1c1c1c">Volume (ml)</text>
<text x="13.30" y="337.70" font-size="12.8" text-anchor="middle" fill="#1c1c1c" transform="rotate(-90 13.30 337.70)" textLength="142.50" lengthAdjust="spacingAndGlyphs">Normalized Intensity (AU)</text>
<line x1="31.30" y1="330.20" x2="31.30" y2="343.90" stroke="#888" stroke-width="0.9"/>
<line x1="29.80" y1="330.20" x2="32.80" y2="330.20" stroke="#888" stroke-width="0.9"/>
<line x1="29.80" y1="343.90" x2="32.80" y2="343.90" stroke="#888" stroke-width="0.9"/>
<text x="27.50" y="337.00" font-size="10" text-anchor="middle" fill="#333" transform="rotate(-90 27.50 337.00)">0.2</text>
<text x="46.60" y="333.40" font-size="11" text-anchor="start" fill="#333" textLength="15.40" lengthAdjust="spacingAndGlyphs">WT</text>
<text x="45.70" y="355.80" font-size="11" text-anchor="start" fill="#333" textLength="28.80" lengthAdjust="spacingAndGlyphs">K329E</text>
<text x="45.60" y="377.90" font-size="11" text-anchor="start" fill="#333" textLength="30.40" lengthAdjust="spacingAndGlyphs">R206C</text>
<text x="47.20" y="400.00" font-size="11" text-anchor="start" fill="#333" textLength="23.70" lengthAdjust="spacingAndGlyphs">Y67H</text>
<line x1="218.30" y1="213.94" x2="337.80" y2="213.94" stroke="#cfcfcf" stroke-width="0.9"/>
<line x1="218.30" y1="207.82" x2="337.80" y2="207.82" stroke="#cfcfcf" stroke-width="0.9"/>
<line x1="218.30" y1="203.48" x2="337.80" y2="203.48" stroke="#cfcfcf" stroke-width="0.9"/>
<line x1="218.30" y1="200.11" x2="337.80" y2="200.11" stroke="#cfcfcf" stroke-width="0.9"/>
<line x1="218.30" y1="197.36" x2="337.80" y2="197.36" stroke="#cfcfcf" stroke-width="0.9"/>
<line x1="218.30" y1="195.03" x2="337.80" y2="195.03" stroke="#cfcfcf" stroke-width="0.9"/>
<line x1="218.30" y1="193.02" x2="337.80" y2="193.02" stroke="#cfcfcf" stroke-width="0.9"/>
<line x1="218.30" y1="191.24" x2="337.80" y2="191.24" stroke="#cfcfcf" stroke-width="0.9"/>
<line x1="218.30" y1="179.19" x2="337.80" y2="179.19" stroke="#cfcfcf" stroke-width="0.9"/>
<line x1="218.30" y1="173.07" x2="337.80" y2="173.07" stroke="#cfcfcf" stroke-width="0.9"/>
<line x1="218.30" y1="168.73" x2="337.80" y2="168.73" stroke="#cfcfcf" stroke-width="0.9"/>
<line x1="218.30" y1="165.36" x2="337.80" y2="165.36" stroke="#cfcfcf" stroke-width="0.9"/>
<line x1="218.30" y1="162.61" x2="337.80" y2="162.61" stroke="#cfcfcf" stroke-width="0.9"/>
<line x1="218.30" y1="160.28" x2="337.80" y2="160.28" stroke="#cfcfcf" stroke-width="0.9"/>
<line x1="218.30" y1="158.27" x2="337.80" y2="158.27" stroke="#cfcfcf" stroke-width="0.9"/>
<line x1="218.30" y1="156.49" x2="337.80" y2="156.49" stroke="#cfcfcf" stroke-width="0.9"/>
<line x1="218.30" y1="144.44" x2="337.80" y2="144.44" stroke="#cfcfcf" stroke-width="0.9"/>
<line x1="218.30" y1="138.32" x2="337.80" y2="138.32" stroke="#cfcfcf" stroke-width="0.9"/>
<line x1="218.30" y1="133.98" x2="337.80" y2="133.98" stroke="#cfcfcf" stroke-width="0.9"/>
<line x1="218.30" y1="130.61" x2="337.80" y2="130.61" stroke="#cfcfcf" stroke-width="0.9"/>
<line x1="218.30" y1="127.86" x2="337.80" y2="127.86" stroke="#cfcfcf" stroke-width="0.9"/>
<line x1="218.30" y1="125.53" x2="337.80" y2="125.53" stroke="#cfcfcf" stroke-width="0.9"/>
<line x1="218.30" y1="123.52" x2="337.80" y2="123.52" stroke="#cfcfcf" stroke-width="0.9"/>
<line x1="218.30" y1="121.74" x2="337.80" y2="121.74" stroke="#cfcfcf" stroke-width="0.9"/>
<line x1="218.30" y1="109.69" x2="337.80" y2="109.69" stroke="#cfcfcf" stroke-width="0.9"/>
<line x1="218.30" y1="103.57" x2="337.80" y2="103.57" stroke="#cfcfcf" stroke-width="0.9"/>
<line x1="218.30" y1="99.23" x2="337.80" y2="99.23" stroke="#cfcfcf" stroke-width="0.9"/>
<line x1="218.30" y1="95.86" x2="337.80" y2="95.86" stroke="#cfcfcf" stroke-width="0.9"/>
<line x1="218.30" y1="93.11" x2="337.80" y2="93.11" stroke="#cfcfcf" stroke-width="0.9"/>
<line x1="218.30" y1="90.78" x2="337.80" y2="90.78" stroke="#cfcfcf" stroke-width="0.9"/>
<line x1="218.30" y1="88.77" x2="337.80" y2="88.77" stroke="#cfcfcf" stroke-width="0.9"/>
<line x1="218.30" y1="86.99" x2="337.80" y2="86.99" stroke="#cfcfcf" stroke-width="0.9"/>
<line x1="218.30" y1="189.65" x2="337.80" y2="189.65" stroke="#c4c4c4" stroke-width="1"/>
<line x1="218.30" y1="154.90" x2="337.80" y2="154.90" stroke="#c4c4c4" stroke-width="1"/>
<line x1="218.30" y1="120.15" x2="337.80" y2="120.15" stroke="#c4c4c4" stroke-width="1"/>
<line x1="218.30" y1="85.40" x2="337.80" y2="85.40" stroke="#c4c4c4" stroke-width="1"/>
<line x1="218.30" y1="85.40" x2="218.30" y2="224.40" stroke="#4a4a4a" stroke-width="1"/>
<line x1="217.80" y1="224.40" x2="337.80" y2="224.40" stroke="#4a4a4a" stroke-width="1"/>
<line x1="215.80" y1="224.40" x2="218.30" y2="224.40" stroke="#4a4a4a" stroke-width="0.8"/>
<line x1="216.80" y1="213.94" x2="218.30" y2="213.94" stroke="#4a4a4a" stroke-width="0.6"/>
<line x1="216.80" y1="207.82" x2="218.30" y2="207.82" stroke="#4a4a4a" stroke-width="0.6"/>
<line x1="216.80" y1="203.48" x2="218.30" y2="203.48" stroke="#4a4a4a" stroke-width="0.6"/>
<line x1="216.80" y1="200.11" x2="218.30" y2="200.11" stroke="#4a4a4a" stroke-width="0.6"/>
<line x1="216.80" y1="197.36" x2="218.30" y2="197.36" stroke="#4a4a4a" stroke-width="0.6"/>
<line x1="216.80" y1="195.03" x2="218.30" y2="195.03" stroke="#4a4a4a" stroke-width="0.6"/>
<line x1="216.80" y1="193.02" x2="218.30" y2="193.02" stroke="#4a4a4a" stroke-width="0.6"/>
<line x1="216.80" y1="191.24" x2="218.30" y2="191.24" stroke="#4a4a4a" stroke-width="0.6"/>
<text x="211.50" y="227.60" font-size="11.2" text-anchor="end" fill="#333">10</text>
<text x="211.70" y="222.80" font-size="5.6" text-anchor="start" fill="#333">0</text>
<line x1="215.80" y1="189.65" x2="218.30" y2="189.65" stroke="#4a4a4a" stroke-width="0.8"/>
<line x1="216.80" y1="179.19" x2="218.30" y2="179.19" stroke="#4a4a4a" stroke-width="0.6"/>
<line x1="216.80" y1="173.07" x2="218.30" y2="173.07" stroke="#4a4a4a" stroke-width="0.6"/>
<line x1="216.80" y1="168.73" x2="218.30" y2="168.73" stroke="#4a4a4a" stroke-width="0.6"/>
<line x1="216.80" y1="165.36" x2="218.30" y2="165.36" stroke="#4a4a4a" stroke-width="0.6"/>
<line x1="216.80" y1="162.61" x2="218.30" y2="162.61" stroke="#4a4a4a" stroke-width="0.6"/>
<line x1="216.80" y1="160.28" x2="218.30" y2="160.28" stroke="#4a4a4a" stroke-width="0.6"/>
<line x1="216.80" y1="158.27" x2="218.30" y2="158.27" stroke="#4a4a4a" stroke-width="0.6"/>
<line x1="216.80" y1="156.49" x2="218.30" y2="156.49" stroke="#4a4a4a" stroke-width="0.6"/>
<text x="211.50" y="192.85" font-size="11.2" text-anchor="end" fill="#333">10</text>
<text x="211.70" y="188.05" font-size="5.6" text-anchor="start" fill="#333">1</text>
<line x1="215.80" y1="154.90" x2="218.30" y2="154.90" stroke="#4a4a4a" stroke-width="0.8"/>
<line x1="216.80" y1="144.44" x2="218.30" y2="144.44" stroke="#4a4a4a" stroke-width="0.6"/>
<line x1="216.80" y1="138.32" x2="218.30" y2="138.32" stroke="#4a4a4a" stroke-width="0.6"/>
<line x1="216.80" y1="133.98" x2="218.30" y2="133.98" stroke="#4a4a4a" stroke-width="0.6"/>
<line x1="216.80" y1="130.61" x2="218.30" y2="130.61" stroke="#4a4a4a" stroke-width="0.6"/>
<line x1="216.80" y1="127.86" x2="218.30" y2="127.86" stroke="#4a4a4a" stroke-width="0.6"/>
<line x1="216.80" y1="125.53" x2="218.30" y2="125.53" stroke="#4a4a4a" stroke-width="0.6"/>
<line x1="216.80" y1="123.52" x2="218.30" y2="123.52" stroke="#4a4a4a" stroke-width="0.6"/>
<line x1="216.80" y1="121.74" x2="218.30" y2="121.74" stroke="#4a4a4a" stroke-width="0.6"/>
<text x="211.50" y="158.10" font-size="11.2" text-anchor="end" fill="#333">10</text>
<text x="211.70" y="153.30" font-size="5.6" text-anchor="start" fill="#333">2</text>
<line x1="215.80" y1="120.15" x2="218.30" y2="120.15" stroke="#4a4a4a" stroke-width="0.8"/>
<line x1="216.80" y1="109.69" x2="218.30" y2="109.69" stroke="#4a4a4a" stroke-width="0.6"/>
<line x1="216.80" y1="103.57" x2="218.30" y2="103.57" stroke="#4a4a4a" stroke-width="0.6"/>
<line x1="216.80" y1="99.23" x2="218.30" y2="99.23" stroke="#4a4a4a" stroke-width="0.6"/>
<line x1="216.80" y1="95.86" x2="218.30" y2="95.86" stroke="#4a4a4a" stroke-width="0.6"/>
<line x1="216.80" y1="93.11" x2="218.30" y2="93.11" stroke="#4a4a4a" stroke-width="0.6"/>
<line x1="216.80" y1="90.78" x2="218.30" y2="90.78" stroke="#4a4a4a" stroke-width="0.6"/>
<line x1="216.80" y1="88.77" x2="218.30" y2="88.77" stroke="#4a4a4a" stroke-width="0.6"/>
<line x1="216.80" y1="86.99" x2="218.30" y2="86.99" stroke="#4a4a4a" stroke-width="0.6"/>
<text x="211.50" y="123.35" font-size="11.2" text-anchor="end" fill="#333">10</text>
<text x="211.70" y="118.55" font-size="5.6" text-anchor="start" fill="#333">3</text>
<line x1="215.80" y1="85.40" x2="218.30" y2="85.40" stroke="#4a4a4a" stroke-width="0.8"/>
<text x="211.50" y="88.60" font-size="11.2" text-anchor="end" fill="#333">10</text>
<text x="211.70" y="83.80" font-size="5.6" text-anchor="start" fill="#333">4</text>
<line x1="218.30" y1="224.40" x2="218.30" y2="226.90" stroke="#4a4a4a" stroke-width="0.8"/>
<text x="218.30" y="240.30" font-size="11.6" text-anchor="middle" fill="#333">0.5</text>
<line x1="247.35" y1="224.40" x2="247.35" y2="226.90" stroke="#4a4a4a" stroke-width="0.8"/>
<text x="247.35" y="240.30" font-size="11.6" text-anchor="middle" fill="#333">1.0</text>
<line x1="276.40" y1="224.40" x2="276.40" y2="226.90" stroke="#4a4a4a" stroke-width="0.8"/>
<text x="276.40" y="240.30" font-size="11.6" text-anchor="middle" fill="#333">1.5</text>
<line x1="305.45" y1="224.40" x2="305.45" y2="226.90" stroke="#4a4a4a" stroke-width="0.8"/>
<text x="305.45" y="240.30" font-size="11.6" text-anchor="middle" fill="#333">2.0</text>
<line x1="334.50" y1="224.40" x2="334.50" y2="226.90" stroke="#4a4a4a" stroke-width="0.8"/>
<text x="334.50" y="240.30" font-size="11.6" text-anchor="middle" fill="#333">2.5</text>
<text x="289.00" y="252.90" font-size="12.6" text-anchor="middle" fill="#1c1c1c">Volume (ml)</text>
<text x="195.70" y="157.50" font-size="12.9" text-anchor="middle" fill="#1c1c1c" transform="rotate(-90 195.70 157.50)" textLength="91.60" lengthAdjust="spacingAndGlyphs">Mol. Mass (kDa)</text>
<circle cx="231.50" cy="96.30" r="1.45" fill="#fff" stroke="#5a5a5a" stroke-width="0.7"/>
<circle cx="235.27" cy="100.07" r="1.45" fill="#fff" stroke="#5a5a5a" stroke-width="0.7"/>
<circle cx="239.05" cy="103.85" r="1.45" fill="#fff" stroke="#5a5a5a" stroke-width="0.7"/>
<circle cx="242.82" cy="107.62" r="1.45" fill="#fff" stroke="#5a5a5a" stroke-width="0.7"/>
<circle cx="246.60" cy="111.40" r="1.45" fill="#fff" stroke="#5a5a5a" stroke-width="0.7"/>
<circle cx="250.37" cy="115.17" r="1.45" fill="#fff" stroke="#5a5a5a" stroke-width="0.7"/>
<circle cx="254.14" cy="118.94" r="1.45" fill="#fff" stroke="#5a5a5a" stroke-width="0.7"/>
<circle cx="257.92" cy="122.72" r="1.45" fill="#fff" stroke="#5a5a5a" stroke-width="0.7"/>
<circle cx="261.69" cy="126.49" r="1.45" fill="#fff" stroke="#5a5a5a" stroke-width="0.7"/>
<circle cx="265.47" cy="130.27" r="1.45" fill="#fff" stroke="#5a5a5a" stroke-width="0.7"/>
<circle cx="269.24" cy="134.04" r="1.45" fill="#fff" stroke="#5a5a5a" stroke-width="0.7"/>
<circle cx="273.01" cy="137.81" r="1.45" fill="#fff" stroke="#5a5a5a" stroke-width="0.7"/>
<circle cx="276.79" cy="141.59" r="1.45" fill="#fff" stroke="#5a5a5a" stroke-width="0.7"/>
<circle cx="280.56" cy="145.36" r="1.45" fill="#fff" stroke="#5a5a5a" stroke-width="0.7"/>
<circle cx="284.34" cy="149.14" r="1.45" fill="#fff" stroke="#5a5a5a" stroke-width="0.7"/>
<circle cx="288.11" cy="152.91" r="1.45" fill="#fff" stroke="#5a5a5a" stroke-width="0.7"/>
<circle cx="291.89" cy="156.69" r="1.45" fill="#fff" stroke="#5a5a5a" stroke-width="0.7"/>
<circle cx="295.66" cy="160.46" r="1.45" fill="#fff" stroke="#5a5a5a" stroke-width="0.7"/>
<circle cx="299.43" cy="164.23" r="1.45" fill="#fff" stroke="#5a5a5a" stroke-width="0.7"/>
<circle cx="303.21" cy="168.01" r="1.45" fill="#fff" stroke="#5a5a5a" stroke-width="0.7"/>
<circle cx="306.98" cy="171.78" r="1.45" fill="#fff" stroke="#5a5a5a" stroke-width="0.7"/>
<circle cx="310.76" cy="175.56" r="1.45" fill="#fff" stroke="#5a5a5a" stroke-width="0.7"/>
<circle cx="314.53" cy="179.33" r="1.45" fill="#fff" stroke="#5a5a5a" stroke-width="0.7"/>
<circle cx="318.30" cy="183.10" r="1.45" fill="#fff" stroke="#5a5a5a" stroke-width="0.7"/>
<circle cx="322.08" cy="186.88" r="1.45" fill="#fff" stroke="#5a5a5a" stroke-width="0.7"/>
<circle cx="325.85" cy="190.65" r="1.45" fill="#fff" stroke="#5a5a5a" stroke-width="0.7"/>
<circle cx="329.63" cy="194.43" r="1.45" fill="#fff" stroke="#5a5a5a" stroke-width="0.7"/>
<circle cx="333.40" cy="198.20" r="1.45" fill="#fff" stroke="#5a5a5a" stroke-width="0.7"/>
<circle cx="267.92" cy="132.54" r="3.0" fill="#c4e2b3" stroke="none" stroke-width="1"/>
<circle cx="284.36" cy="148.00" r="3.0" fill="#a3d28b" stroke="none" stroke-width="1"/>
<circle cx="293.66" cy="159.24" r="3.0" fill="#69ae4b" stroke="none" stroke-width="1"/>
<circle cx="299.76" cy="167.29" r="3.0" fill="#4a8a35" stroke="none" stroke-width="1"/>
<circle cx="314.11" cy="177.41" r="3.0" fill="#2b5520" stroke="none" stroke-width="1"/>
<text x="228.60" y="187.80" font-size="8.9" text-anchor="start" fill="#333">y = 81106e</text>
<text x="271.20" y="185.60" font-size="5.7" text-anchor="start" fill="#333">-3.864x</text>
<text x="244.90" y="198.30" font-size="8.7" text-anchor="start" fill="#333">R<tspan font-size="5.2" dy="-3.4">2</tspan><tspan dy="3.4"> = 0.9904</tspan></text>
<rect x="221.30" y="264.60" width="112.80" height="20.60" fill="#e9e9e9" stroke="none" stroke-width="1"/>
<line x1="221.30" y1="298.37" x2="334.10" y2="298.37" stroke="#555" stroke-width="1.1"/>
<line x1="221.30" y1="311.54" x2="334.10" y2="311.54" stroke="#555" stroke-width="1.1"/>
<line x1="221.30" y1="324.71" x2="334.10" y2="324.71" stroke="#555" stroke-width="1.1"/>
<line x1="221.30" y1="337.88" x2="334.10" y2="337.88" stroke="#555" stroke-width="1.1"/>
<line x1="221.30" y1="351.05" x2="334.10" y2="351.05" stroke="#555" stroke-width="1.1"/>
<line x1="221.30" y1="364.22" x2="334.10" y2="364.22" stroke="#555" stroke-width="1.1"/>
<line x1="221.30" y1="377.39" x2="334.10" y2="377.39" stroke="#555" stroke-width="1.1"/>
<line x1="221.30" y1="390.56" x2="334.10" y2="390.56" stroke="#555" stroke-width="1.1"/>
<line x1="221.30" y1="403.73" x2="334.10" y2="403.73" stroke="#555" stroke-width="1.1"/>
<line x1="221.30" y1="285.20" x2="334.10" y2="285.20" stroke="#333" stroke-width="1.2"/>
<line x1="265.50" y1="264.60" x2="265.50" y2="416.90" stroke="#333" stroke-width="1.2"/>
<line x1="304.20" y1="264.60" x2="304.20" y2="416.90" stroke="#333" stroke-width="1.2"/>
<rect x="221.30" y="264.60" width="112.80" height="152.30" fill="none" stroke="#333" stroke-width="1.2"/>
<text x="243.40" y="274.20" font-size="8.3" text-anchor="middle" fill="#1c1c1c" font-weight="bold">Protein</text>
<text x="274.30" y="274.20" font-size="8.3" text-anchor="start" fill="#1c1c1c" font-weight="bold">Peak</text>
<text x="274.60" y="282.40" font-size="8.3" text-anchor="start" fill="#1c1c1c" font-weight="bold">(ml)</text>
<text x="319.15" y="274.20" font-size="8.3" text-anchor="middle" fill="#1c1c1c" font-weight="bold">Mass</text>
<text x="319.15" y="282.40" font-size="8.3" text-anchor="middle" fill="#1c1c1c" font-weight="bold">(kDa)</text>
<text x="224.60" y="294.78" font-size="7.6" text-anchor="start" fill="#2a2a2a" textLength="38.60" lengthAdjust="spacingAndGlyphs">Thyroglobuline</text>
<text x="272.60" y="294.78" font-size="7.6" text-anchor="start" fill="#2a2a2a">1.127</text>
<text x="311.00" y="294.78" font-size="7.6" text-anchor="start" fill="#2a2a2a">669</text>
<text x="224.60" y="307.95" font-size="7.6" text-anchor="start" fill="#2a2a2a">Ferritin</text>
<text x="272.60" y="307.95" font-size="7.6" text-anchor="start" fill="#2a2a2a">1.354</text>
<text x="311.00" y="307.95" font-size="7.6" text-anchor="start" fill="#2a2a2a">440</text>
<text x="224.60" y="321.12" font-size="7.6" text-anchor="start" fill="#2a2a2a">Aldolase</text>
<text x="272.60" y="321.12" font-size="7.6" text-anchor="start" fill="#2a2a2a">1.637</text>
<text x="311.00" y="321.12" font-size="7.6" text-anchor="start" fill="#2a2a2a">158</text>
<text x="224.60" y="334.29" font-size="7.6" text-anchor="start" fill="#2a2a2a">Conalbumin</text>
<text x="272.60" y="334.29" font-size="7.6" text-anchor="start" fill="#2a2a2a">1.797</text>
<text x="311.00" y="334.29" font-size="7.6" text-anchor="start" fill="#2a2a2a">75</text>
<text x="224.60" y="347.46" font-size="7.6" text-anchor="start" fill="#2a2a2a">Ovalbumin</text>
<text x="272.60" y="347.46" font-size="7.6" text-anchor="start" fill="#2a2a2a">1.902</text>
<text x="311.00" y="347.46" font-size="7.6" text-anchor="start" fill="#2a2a2a">44</text>
<text x="224.60" y="360.63" font-size="7.6" text-anchor="start" fill="#2a2a2a">Chymotryp.</text>
<text x="272.60" y="360.63" font-size="7.6" text-anchor="start" fill="#2a2a2a">2.149</text>
<text x="311.00" y="360.63" font-size="7.6" text-anchor="start" fill="#2a2a2a">22.5</text>
<text x="224.60" y="373.80" font-size="8.0" text-anchor="start" fill="#2a2a2a" textLength="30.60" lengthAdjust="spacingAndGlyphs">MCAD WT</text>
<text x="272.60" y="373.80" font-size="7.6" text-anchor="start" fill="#2a2a2a">1.584</text>
<text x="311.00" y="373.80" font-size="7.6" text-anchor="start" fill="#2a2a2a">179</text>
<text x="224.60" y="386.97" font-size="8.0" text-anchor="start" fill="#2a2a2a" textLength="39.20" lengthAdjust="spacingAndGlyphs">MCAD K329E</text>
<text x="272.60" y="386.97" font-size="7.6" text-anchor="start" fill="#2a2a2a">1.585</text>
<text x="311.00" y="386.97" font-size="7.6" text-anchor="start" fill="#2a2a2a">178</text>
<text x="224.60" y="400.14" font-size="8.0" text-anchor="start" fill="#2a2a2a" textLength="39.20" lengthAdjust="spacingAndGlyphs">MCAD R206C</text>
<text x="272.60" y="400.14" font-size="7.6" text-anchor="start" fill="#2a2a2a">1.584</text>
<text x="311.00" y="400.14" font-size="7.6" text-anchor="start" fill="#2a2a2a">178</text>
<text x="224.60" y="413.31" font-size="8.0" text-anchor="start" fill="#2a2a2a" textLength="35.40" lengthAdjust="spacingAndGlyphs">MCAD Y67H</text>
<text x="272.60" y="413.31" font-size="7.6" text-anchor="start" fill="#2a2a2a">1.583</text>
<text x="311.00" y="413.31" font-size="7.6" text-anchor="start" fill="#2a2a2a">180</text>
<defs><filter id="bl" x="-50%" y="-200%" width="200%" height="500%"><feGaussianBlur stdDeviation="0.85"/></filter><filter id="bl2" x="-50%" y="-200%" width="200%" height="500%"><feGaussianBlur stdDeviation="2"/></filter><filter id="blg" x="0" y="0" width="1" height="1"><feGaussianBlur stdDeviation="3"/></filter><linearGradient id="gelg" x1="0" x2="1" y1="0" y2="0"><stop offset="0" stop-color="#000" stop-opacity="0.07"/><stop offset="0.07" stop-color="#000" stop-opacity="0.01"/><stop offset="0.93" stop-color="#000" stop-opacity="0"/><stop offset="1" stop-color="#000" stop-opacity="0.04"/></linearGradient><linearGradient id="gelv" x1="0" x2="0" y1="0" y2="1"><stop offset="0" stop-color="#fff" stop-opacity="0.0"/><stop offset="0.18" stop-color="#fff" stop-opacity="0.01"/><stop offset="0.45" stop-color="#fff" stop-opacity="0.085"/><stop offset="0.7" stop-color="#fff" stop-opacity="0.04"/><stop offset="1" stop-color="#000" stop-opacity="0.015"/></linearGradient></defs>
<rect x="400.80" y="85.20" width="131.20" height="139.00" fill="#999999" stroke="none" stroke-width="1"/>
<rect x="400.80" y="85.20" width="131.20" height="139.00" fill="url(#gelv)" stroke="none" stroke-width="1"/>
<rect x="400.80" y="85.20" width="131.20" height="139.00" fill="url(#gelg)" stroke="none" stroke-width="1"/>
<line x1="400.80" y1="85.70" x2="532.00" y2="85.70" stroke="#4a4a4a" stroke-width="1"/>
<line x1="531.50" y1="85.20" x2="531.50" y2="224.20" stroke="#6e6e6e" stroke-width="1"/>
<line x1="401.20" y1="85.20" x2="401.20" y2="224.20" stroke="#6a6a6a" stroke-width="0.8"/>
<line x1="400.80" y1="223.80" x2="532.00" y2="223.80" stroke="#7a7a7a" stroke-width="0.8"/>
<path d="M412.00,98.00 Q416.40,99.60 420.80,98.00" fill="none" stroke="#2e2e2e" stroke-width="2.3" stroke-linecap="round" opacity="0.9" filter="url(#bl)"/>
<path d="M412.30,102.50 Q416.45,103.70 420.60,102.50" fill="none" stroke="#454545" stroke-width="1.9" stroke-linecap="round" opacity="0.8" filter="url(#bl)"/>
<path d="M411.60,109.20 Q416.40,111.40 421.20,109.20" fill="none" stroke="#151515" stroke-width="3.0" stroke-linecap="round" opacity="1" filter="url(#bl)"/>
<ellipse cx="416.10" cy="143.70" rx="7.75" ry="2.30" fill="#050505" opacity="1" filter="url(#bl)"/>
<ellipse cx="416.20" cy="153.10" rx="5.50" ry="1.50" fill="#7a7a7a" opacity="0.8" filter="url(#bl)"/>
<ellipse cx="415.70" cy="168.40" rx="6.75" ry="1.50" fill="#050505" opacity="1" filter="url(#bl)"/>
<ellipse cx="416.00" cy="183.30" rx="5.10" ry="3.50" fill="#1a1a1a" opacity="1" filter="url(#bl)"/>
<ellipse cx="416.00" cy="198.90" rx="5.00" ry="2.25" fill="#222" opacity="1" filter="url(#bl)"/>
<ellipse cx="415.60" cy="207.60" rx="3.90" ry="1.50" fill="#0a0a0a" opacity="1" filter="url(#bl)"/>
<ellipse cx="415.60" cy="218.40" rx="3.90" ry="1.20" fill="#111" opacity="1" filter="url(#bl)"/>
<rect x="435.80" y="161.00" width="11.00" height="34.00" rx="3.00" fill="#b4b4b4" opacity="0.35" filter="url(#bl2)"/>
<rect x="435.70" y="177.30" width="11.20" height="4.60" rx="1.60" fill="#1e1e1e" opacity="1" filter="url(#bl)"/>
<rect x="436.10" y="188.20" width="9.80" height="3.20" rx="1.20" fill="#505050" opacity="0.95" filter="url(#bl)"/>
<rect x="462.10" y="165.00" width="11.00" height="30.00" rx="3.00" fill="#b4b4b4" opacity="0.3" filter="url(#bl2)"/>
<rect x="462.30" y="179.50" width="10.40" height="3.00" rx="1.20" fill="#141414" opacity="1" filter="url(#bl)"/>
<rect x="462.30" y="188.20" width="9.80" height="3.20" rx="1.20" fill="#1e1e1e" opacity="1" filter="url(#bl)"/>
<rect x="488.80" y="156.00" width="11.00" height="34.00" rx="3.00" fill="#b4b4b4" opacity="0.4" filter="url(#bl2)"/>
<rect x="489.40" y="159.20" width="9.80" height="2.20" rx="1.00" fill="#6a6a6a" opacity="0.8" filter="url(#bl)"/>
<rect x="489.00" y="181.40" width="10.60" height="3.00" rx="1.20" fill="#101010" opacity="1" filter="url(#bl)"/>
<rect x="489.30" y="184.30" width="10.00" height="1.40" rx="0.70" fill="#555" opacity="0.5" filter="url(#bl)"/>
<rect x="515.90" y="166.00" width="11.00" height="28.00" rx="3.00" fill="#b4b4b4" opacity="0.3" filter="url(#bl2)"/>
<rect x="516.00" y="176.00" width="10.80" height="2.00" rx="0.90" fill="#1e1e1e" opacity="1" filter="url(#bl)"/>
<rect x="516.00" y="179.10" width="10.80" height="2.00" rx="0.90" fill="#262626" opacity="1" filter="url(#bl)"/>
<rect x="516.30" y="186.10" width="9.80" height="3.00" rx="1.20" fill="#5a5a5a" opacity="0.95" filter="url(#bl)"/>
<text x="420.60" y="77.80" font-size="10" text-anchor="start" fill="#1c1c1c" transform="rotate(-90 420.60 77.80)" textLength="30.80" lengthAdjust="spacingAndGlyphs">Marker</text>
<line x1="411.10" y1="81.50" x2="422.60" y2="81.50" stroke="#333" stroke-width="0.9"/>
<text x="447.00" y="79.00" font-size="10" text-anchor="start" fill="#1c1c1c" transform="rotate(-90 447.00 79.00)" textLength="14.40" lengthAdjust="spacingAndGlyphs">WT</text>
<line x1="437.50" y1="81.50" x2="448.80" y2="81.50" stroke="#333" stroke-width="0.9"/>
<text x="473.00" y="78.40" font-size="10" text-anchor="start" fill="#1c1c1c" transform="rotate(-90 473.00 78.40)" textLength="30.20" lengthAdjust="spacingAndGlyphs">K329E</text>
<line x1="463.50" y1="81.50" x2="474.80" y2="81.50" stroke="#333" stroke-width="0.9"/>
<text x="499.40" y="78.40" font-size="10" text-anchor="start" fill="#1c1c1c" transform="rotate(-90 499.40 78.40)" textLength="30.80" lengthAdjust="spacingAndGlyphs">R206C</text>
<line x1="489.10" y1="81.50" x2="500.80" y2="81.50" stroke="#333" stroke-width="0.9"/>
<text x="525.10" y="79.70" font-size="10" text-anchor="start" fill="#1c1c1c" transform="rotate(-90 525.10 79.70)" textLength="25.80" lengthAdjust="spacingAndGlyphs">Y67H</text>
<line x1="515.30" y1="81.50" x2="526.60" y2="81.50" stroke="#333" stroke-width="0.9"/>
<text x="391.80" y="97.80" font-size="11" text-anchor="end" fill="#1c1c1c" textLength="14.00" lengthAdjust="spacingAndGlyphs">8.3</text>
<line x1="394.10" y1="96.20" x2="400.80" y2="96.20" stroke="#3a3a3a" stroke-width="1.0"/>
<text x="391.80" y="106.80" font-size="11" text-anchor="end" fill="#1c1c1c" textLength="14.00" lengthAdjust="spacingAndGlyphs">8.0</text>
<line x1="394.10" y1="103.30" x2="400.80" y2="103.30" stroke="#3a3a3a" stroke-width="1.0"/>
<text x="391.80" y="116.00" font-size="11" text-anchor="end" fill="#1c1c1c" textLength="14.00" lengthAdjust="spacingAndGlyphs">7.8</text>
<line x1="394.10" y1="109.50" x2="400.80" y2="109.50" stroke="#3a3a3a" stroke-width="1.0"/>
<text x="391.80" y="146.20" font-size="11" text-anchor="end" fill="#1c1c1c" textLength="14.00" lengthAdjust="spacingAndGlyphs">7.4</text>
<line x1="394.10" y1="143.00" x2="400.80" y2="143.00" stroke="#3a3a3a" stroke-width="1.0"/>
<text x="391.80" y="157.50" font-size="11" text-anchor="end" fill="#1c1c1c" textLength="14.00" lengthAdjust="spacingAndGlyphs">6.9</text>
<line x1="394.10" y1="154.00" x2="400.80" y2="154.00" stroke="#3a3a3a" stroke-width="1.0"/>
<text x="391.80" y="171.90" font-size="11" text-anchor="end" fill="#1c1c1c" textLength="14.00" lengthAdjust="spacingAndGlyphs">6.0</text>
<line x1="394.10" y1="168.90" x2="400.80" y2="168.90" stroke="#3a3a3a" stroke-width="1.0"/>
<text x="391.80" y="182.60" font-size="11" text-anchor="end" fill="#1c1c1c" textLength="14.00" lengthAdjust="spacingAndGlyphs">5.3</text>
<line x1="394.10" y1="181.70" x2="400.80" y2="181.70" stroke="#3a3a3a" stroke-width="1.0"/>
<text x="391.80" y="191.70" font-size="11" text-anchor="end" fill="#1c1c1c" textLength="14.00" lengthAdjust="spacingAndGlyphs">5.2</text>
<line x1="394.10" y1="183.70" x2="400.80" y2="183.70" stroke="#3a3a3a" stroke-width="1.0"/>
<text x="391.80" y="200.90" font-size="11" text-anchor="end" fill="#1c1c1c" textLength="14.00" lengthAdjust="spacingAndGlyphs">4.5</text>
<line x1="394.10" y1="198.10" x2="400.80" y2="198.10" stroke="#3a3a3a" stroke-width="1.0"/>
<text x="391.80" y="211.90" font-size="11" text-anchor="end" fill="#1c1c1c" textLength="14.00" lengthAdjust="spacingAndGlyphs">4.2</text>
<line x1="394.10" y1="207.10" x2="400.80" y2="207.10" stroke="#3a3a3a" stroke-width="1.0"/>
<text x="391.80" y="221.10" font-size="11" text-anchor="end" fill="#1c1c1c" textLength="14.00" lengthAdjust="spacingAndGlyphs">3.5</text>
<line x1="394.10" y1="218.10" x2="400.80" y2="218.10" stroke="#3a3a3a" stroke-width="1.0"/>
<line x1="356.10" y1="95.60" x2="369.40" y2="95.60" stroke="#2a2a2a" stroke-width="1.3"/>
<line x1="362.80" y1="95.50" x2="362.80" y2="135.50" stroke="#555" stroke-width="0.9"/>
<line x1="362.80" y1="186.30" x2="362.80" y2="218.50" stroke="#555" stroke-width="0.9"/>
<path d="M359.40,214.00 L362.80,218.80 L366.40,214.00" fill="none" stroke="#333" stroke-width="1" stroke-linejoin="round"/>
<text x="367.20" y="160.30" font-size="11.2" text-anchor="middle" fill="#1c1c1c" transform="rotate(-90 367.20 160.30)" textLength="40.00" lengthAdjust="spacingAndGlyphs">3-10 IEF</text>
<text x="541.00" y="168.80" font-size="11" text-anchor="start" fill="#1c1c1c" textLength="14.30" lengthAdjust="spacingAndGlyphs">5.6</text>
<text x="541.00" y="177.70" font-size="11" text-anchor="start" fill="#1c1c1c" textLength="14.30" lengthAdjust="spacingAndGlyphs">5.5</text>
<text x="541.00" y="186.00" font-size="11" text-anchor="start" fill="#1c1c1c" textLength="14.30" lengthAdjust="spacingAndGlyphs">5.4</text>
<text x="541.00" y="194.70" font-size="11" text-anchor="start" fill="#1c1c1c" textLength="14.30" lengthAdjust="spacingAndGlyphs">5.3</text>
<path d="M532.30,177.70 L534.20,177.70 L541.30,166.70" fill="none" stroke="#333" stroke-width="0.7" stroke-linejoin="round"/>
<path d="M532.30,178.60 L534.20,178.60 L541.30,175.00" fill="none" stroke="#333" stroke-width="0.7" stroke-linejoin="round"/>
<path d="M532.30,182.00 L534.20,182.00 L541.30,183.00" fill="none" stroke="#333" stroke-width="0.7" stroke-linejoin="round"/>
<path d="M532.30,182.60 L534.20,182.60 L541.50,190.50" fill="none" stroke="#333" stroke-width="0.7" stroke-linejoin="round"/>
<rect x="402.10" y="265.20" width="131.50" height="120.00" fill="none" stroke="#777" stroke-width="1"/>
<line x1="402.10" y1="265.20" x2="402.10" y2="385.20" stroke="#4a4a4a" stroke-width="1"/>
<line x1="402.10" y1="385.20" x2="533.60" y2="385.20" stroke="#4a4a4a" stroke-width="1"/>
<line x1="399.60" y1="385.20" x2="402.10" y2="385.20" stroke="#4a4a4a" stroke-width="0.8"/>
<text x="397.80" y="389.60" font-size="10" text-anchor="end" fill="#333">0</text>
<line x1="399.60" y1="371.87" x2="402.10" y2="371.87" stroke="#4a4a4a" stroke-width="0.8"/>
<text x="397.80" y="376.27" font-size="10" text-anchor="end" fill="#333">5</text>
<line x1="399.60" y1="358.53" x2="402.10" y2="358.53" stroke="#4a4a4a" stroke-width="0.8"/>
<text x="397.80" y="362.93" font-size="10" text-anchor="end" fill="#333">10</text>
<line x1="399.60" y1="345.20" x2="402.10" y2="345.20" stroke="#4a4a4a" stroke-width="0.8"/>
<text x="397.80" y="349.60" font-size="10" text-anchor="end" fill="#333">15</text>
<line x1="399.60" y1="331.87" x2="402.10" y2="331.87" stroke="#4a4a4a" stroke-width="0.8"/>
<text x="397.80" y="336.27" font-size="10" text-anchor="end" fill="#333">20</text>
<line x1="399.60" y1="318.53" x2="402.10" y2="318.53" stroke="#4a4a4a" stroke-width="0.8"/>
<text x="397.80" y="322.93" font-size="10" text-anchor="end" fill="#333">25</text>
<line x1="399.60" y1="305.20" x2="402.10" y2="305.20" stroke="#4a4a4a" stroke-width="0.8"/>
<text x="397.80" y="309.60" font-size="10" text-anchor="end" fill="#333">30</text>
<line x1="399.60" y1="291.87" x2="402.10" y2="291.87" stroke="#4a4a4a" stroke-width="0.8"/>
<text x="397.80" y="296.27" font-size="10" text-anchor="end" fill="#333">35</text>
<line x1="399.60" y1="278.53" x2="402.10" y2="278.53" stroke="#4a4a4a" stroke-width="0.8"/>
<text x="397.80" y="282.93" font-size="10" text-anchor="end" fill="#333">40</text>
<line x1="399.60" y1="265.20" x2="402.10" y2="265.20" stroke="#4a4a4a" stroke-width="0.8"/>
<text x="397.80" y="269.60" font-size="10" text-anchor="end" fill="#333">45</text>
<line x1="402.10" y1="385.20" x2="402.10" y2="387.70" stroke="#4a4a4a" stroke-width="0.8"/>
<text x="402.10" y="397.60" font-size="10" text-anchor="middle" fill="#333">0</text>
<line x1="428.40" y1="385.20" x2="428.40" y2="387.70" stroke="#4a4a4a" stroke-width="0.8"/>
<text x="428.40" y="397.60" font-size="10" text-anchor="middle" fill="#333">2</text>
<line x1="454.70" y1="385.20" x2="454.70" y2="387.70" stroke="#4a4a4a" stroke-width="0.8"/>
<text x="454.70" y="397.60" font-size="10" text-anchor="middle" fill="#333">4</text>
<line x1="481.00" y1="385.20" x2="481.00" y2="387.70" stroke="#4a4a4a" stroke-width="0.8"/>
<text x="481.00" y="397.60" font-size="10" text-anchor="middle" fill="#333">6</text>
<line x1="507.30" y1="385.20" x2="507.30" y2="387.70" stroke="#4a4a4a" stroke-width="0.8"/>
<text x="507.30" y="397.60" font-size="10" text-anchor="middle" fill="#333">8</text>
<line x1="533.60" y1="385.20" x2="533.60" y2="387.70" stroke="#4a4a4a" stroke-width="0.8"/>
<text x="533.60" y="397.60" font-size="10" text-anchor="middle" fill="#333">10</text>
<text x="466.80" y="412.20" font-size="12" text-anchor="middle" fill="#1c1c1c">pI</text>
<text x="380.00" y="328.90" font-size="12.2" text-anchor="middle" fill="#1c1c1c" transform="rotate(-90 380.00 328.90)" textLength="125.60" lengthAdjust="spacingAndGlyphs">Migration Distance (mm)</text>
<path d="M446.81,274.79 L500.07,339.38" fill="none" stroke="#444" stroke-width="0.6" stroke-linejoin="round" stroke-dasharray="1.2,1.2"/>
<circle cx="448.12" cy="275.60" r="2.7" fill="none" stroke="#333" stroke-width="1.0"/>
<circle cx="457.33" cy="284.40" r="2.7" fill="none" stroke="#333" stroke-width="1.0"/>
<circle cx="461.28" cy="291.60" r="2.7" fill="none" stroke="#333" stroke-width="1.0"/>
<circle cx="470.48" cy="303.60" r="2.7" fill="none" stroke="#333" stroke-width="1.0"/>
<circle cx="471.80" cy="305.47" r="2.7" fill="none" stroke="#333" stroke-width="1.0"/>
<circle cx="481.00" cy="316.40" r="2.7" fill="none" stroke="#333" stroke-width="1.0"/>
<circle cx="492.84" cy="329.20" r="2.7" fill="none" stroke="#333" stroke-width="1.0"/>
<circle cx="499.41" cy="337.73" r="2.7" fill="none" stroke="#333" stroke-width="1.0"/>
<circle cx="504.67" cy="363.87" r="2.7" fill="none" stroke="#333" stroke-width="1.0"/>
<circle cx="507.30" cy="369.73" r="2.7" fill="none" stroke="#333" stroke-width="1.0"/>
<circle cx="511.25" cy="374.27" r="2.7" fill="none" stroke="#333" stroke-width="1.0"/>
<text x="406.20" y="370.00" font-size="10.6" text-anchor="start" fill="#333">y=-5.981x + 61.74</text>
<text x="406.00" y="382.60" font-size="10.6" text-anchor="start" fill="#333">R<tspan font-size="6.4" dy="-4.0">2</tspan><tspan dy="4.0"> = 0.9972</tspan></text>
<rect x="567.60" y="85.30" width="116.00" height="18.70" fill="#dedede" stroke="none" stroke-width="1"/>
<text x="571.00" y="113.30" font-size="7" text-anchor="start" fill="#333">WT</text>
<text x="628.55" y="112.53" font-size="7" text-anchor="middle" fill="#333">28.54</text>
<text x="669.65" y="112.53" font-size="7" text-anchor="middle" fill="#333">5.6</text>
<line x1="601.40" y1="116.05" x2="683.60" y2="116.05" stroke="#333" stroke-width="0.9"/>
<text x="628.55" y="125.28" font-size="9.2" text-anchor="middle" fill="#222" font-weight="bold">29.02</text>
<text x="669.65" y="125.28" font-size="9.2" text-anchor="middle" fill="#222" font-weight="bold">5.5</text>
<line x1="601.40" y1="128.10" x2="683.60" y2="128.10" stroke="#333" stroke-width="0.9"/>
<text x="628.55" y="136.62" font-size="7" text-anchor="middle" fill="#333">29.55</text>
<text x="669.65" y="136.62" font-size="7" text-anchor="middle" fill="#333">5.4</text>
<line x1="601.40" y1="140.15" x2="683.60" y2="140.15" stroke="#333" stroke-width="0.9"/>
<text x="628.55" y="148.68" font-size="7" text-anchor="middle" fill="#333">32.06</text>
<text x="669.65" y="148.68" font-size="7" text-anchor="middle" fill="#333">5.0</text>
<line x1="567.60" y1="152.20" x2="683.60" y2="152.20" stroke="#333" stroke-width="1"/>
<text x="571.00" y="161.50" font-size="7" text-anchor="start" fill="#333">K329E</text>
<text x="628.55" y="161.42" font-size="9.2" text-anchor="middle" fill="#222" font-weight="bold">29.17</text>
<text x="669.65" y="161.42" font-size="9.2" text-anchor="middle" fill="#222" font-weight="bold">5.4</text>
<line x1="601.40" y1="164.25" x2="683.60" y2="164.25" stroke="#333" stroke-width="0.9"/>
<text x="628.55" y="172.78" font-size="7" text-anchor="middle" fill="#333">31.62</text>
<text x="669.65" y="172.78" font-size="7" text-anchor="middle" fill="#333">5.0</text>
<line x1="601.40" y1="176.30" x2="683.60" y2="176.30" stroke="#333" stroke-width="0.9"/>
<text x="628.55" y="184.83" font-size="7" text-anchor="middle" fill="#333">32.17</text>
<text x="669.65" y="184.83" font-size="7" text-anchor="middle" fill="#333">4.9</text>
<line x1="567.60" y1="188.35" x2="683.60" y2="188.35" stroke="#333" stroke-width="1"/>
<text x="571.00" y="197.65" font-size="7" text-anchor="start" fill="#333">R206C</text>
<text x="628.55" y="196.88" font-size="7" text-anchor="middle" fill="#333">23.11</text>
<text x="669.65" y="196.88" font-size="7" text-anchor="middle" fill="#333">6.5</text>
<line x1="601.40" y1="200.40" x2="683.60" y2="200.40" stroke="#333" stroke-width="0.9"/>
<text x="628.55" y="208.92" font-size="7" text-anchor="middle" fill="#333">29.62</text>
<text x="669.65" y="208.92" font-size="7" text-anchor="middle" fill="#333">5.4</text>
<line x1="601.40" y1="212.45" x2="683.60" y2="212.45" stroke="#333" stroke-width="0.9"/>
<text x="628.55" y="221.67" font-size="9.2" text-anchor="middle" fill="#222" font-weight="bold">29.96</text>
<text x="669.65" y="221.67" font-size="9.2" text-anchor="middle" fill="#222" font-weight="bold">5.3</text>
<line x1="601.40" y1="224.50" x2="683.60" y2="224.50" stroke="#333" stroke-width="0.9"/>
<text x="628.55" y="233.03" font-size="7" text-anchor="middle" fill="#333">30.70</text>
<text x="669.65" y="233.03" font-size="7" text-anchor="middle" fill="#333">5.2</text>
<line x1="567.60" y1="236.55" x2="683.60" y2="236.55" stroke="#333" stroke-width="1"/>
<text x="571.00" y="245.85" font-size="7" text-anchor="start" fill="#333">Y67H</text>
<text x="628.55" y="245.77" font-size="9.2" text-anchor="middle" fill="#222" font-weight="bold">28.46</text>
<text x="669.65" y="245.77" font-size="9.2" text-anchor="middle" fill="#222" font-weight="bold">5.6</text>
<line x1="601.40" y1="248.60" x2="683.60" y2="248.60" stroke="#333" stroke-width="0.9"/>
<text x="628.55" y="257.12" font-size="7" text-anchor="middle" fill="#333">29.94</text>
<text x="669.65" y="257.12" font-size="7" text-anchor="middle" fill="#333">5.3</text>
<line x1="601.40" y1="260.65" x2="683.60" y2="260.65" stroke="#333" stroke-width="0.9"/>
<text x="628.55" y="269.17" font-size="7" text-anchor="middle" fill="#333">31.41</text>
<text x="669.65" y="269.17" font-size="7" text-anchor="middle" fill="#333">5.1</text>
<line x1="567.60" y1="104.00" x2="683.60" y2="104.00" stroke="#333" stroke-width="1.1"/>
<line x1="601.40" y1="85.30" x2="601.40" y2="272.70" stroke="#333" stroke-width="1.1"/>
<line x1="655.70" y1="85.30" x2="655.70" y2="272.70" stroke="#444" stroke-width="1.4"/>
<rect x="567.60" y="85.30" width="116.00" height="187.40" fill="none" stroke="#333" stroke-width="1.1"/>
<text x="569.80" y="93.10" font-size="7.3" text-anchor="start" fill="#1c1c1c" font-weight="bold">Variant</text>
<text x="603.90" y="93.10" font-size="7.3" text-anchor="start" fill="#1c1c1c" font-weight="bold">Migration</text>
<text x="603.90" y="101.40" font-size="7.3" text-anchor="start" fill="#1c1c1c" font-weight="bold">Distance (mm)</text>
<text x="669.60" y="93.10" font-size="7.3" text-anchor="middle" fill="#1c1c1c" font-weight="bold">pI</text>
</svg></body></html>
